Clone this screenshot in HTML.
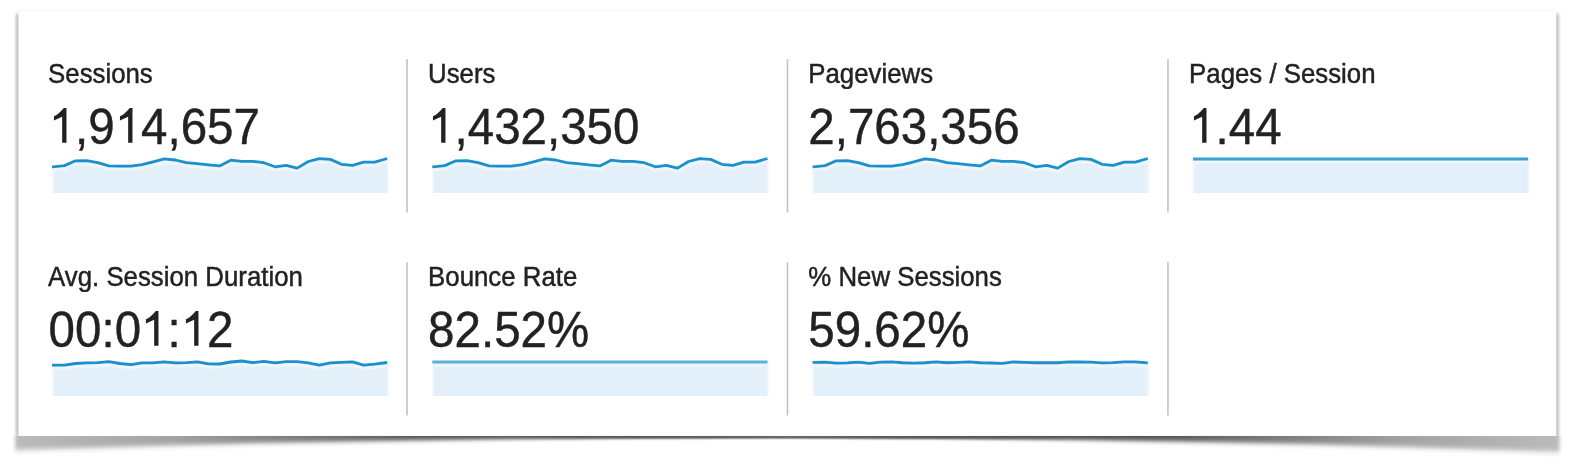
<!DOCTYPE html>
<html><head><meta charset="utf-8"><style>
html,body{margin:0;padding:0;background:#fff;width:1576px;height:472px;overflow:hidden;position:relative}
.lbl,.num{position:absolute;font-family:"Liberation Sans",sans-serif;color:#222;white-space:nowrap;line-height:1}
.lbl{font-size:25.8px;-webkit-text-stroke:0.45px #222;transform:scaleY(1.074);transform-origin:0 0}
.num{font-size:47.5px;-webkit-text-stroke:0.4px #222;transform:scaleY(1.069);transform-origin:0 0}
body>svg{position:absolute;left:0;top:0}
.one{position:relative;color:transparent;-webkit-text-stroke-color:transparent}
.one svg{position:absolute;left:0;top:0;width:0.556em;height:1.117em;fill:#222}
</style></head><body>
<svg width="1576" height="472" viewBox="0 0 1576 472">
<defs>
<filter id="b1" filterUnits="userSpaceOnUse" x="0" y="0" width="1576" height="472"><feGaussianBlur stdDeviation="1.4"/></filter>
<filter id="lb" filterUnits="userSpaceOnUse" x="0" y="0" width="1576" height="472"><feGaussianBlur stdDeviation="0.6"/></filter>
<filter id="fb" filterUnits="userSpaceOnUse" x="0" y="0" width="1576" height="472"><feGaussianBlur stdDeviation="1.0 0.6"/></filter>
<filter id="b2" x="-5%" y="-200%" width="110%" height="500%"><feGaussianBlur stdDeviation="1"/></filter>
<linearGradient id="g0" x2="0" y2="1"><stop offset="0.00" stop-opacity="0.005"/><stop offset="0.14" stop-opacity="0.005"/><stop offset="0.29" stop-opacity="0.005"/><stop offset="0.43" stop-opacity="0.005"/><stop offset="0.57" stop-opacity="0.004"/><stop offset="0.71" stop-opacity="0.001"/><stop offset="0.86" stop-opacity="0.000"/><stop offset="1.00" stop-opacity="0.000"/></linearGradient><linearGradient id="g1" x2="0" y2="1"><stop offset="0.00" stop-opacity="0.018"/><stop offset="0.14" stop-opacity="0.018"/><stop offset="0.29" stop-opacity="0.018"/><stop offset="0.43" stop-opacity="0.018"/><stop offset="0.57" stop-opacity="0.013"/><stop offset="0.71" stop-opacity="0.005"/><stop offset="0.86" stop-opacity="0.000"/><stop offset="1.00" stop-opacity="0.000"/></linearGradient><linearGradient id="g2" x2="0" y2="1"><stop offset="0.00" stop-opacity="0.047"/><stop offset="0.14" stop-opacity="0.047"/><stop offset="0.29" stop-opacity="0.047"/><stop offset="0.43" stop-opacity="0.045"/><stop offset="0.57" stop-opacity="0.034"/><stop offset="0.71" stop-opacity="0.012"/><stop offset="0.86" stop-opacity="0.001"/><stop offset="1.00" stop-opacity="0.000"/></linearGradient><linearGradient id="g3" x2="0" y2="1"><stop offset="0.00" stop-opacity="0.094"/><stop offset="0.14" stop-opacity="0.094"/><stop offset="0.29" stop-opacity="0.094"/><stop offset="0.43" stop-opacity="0.091"/><stop offset="0.57" stop-opacity="0.069"/><stop offset="0.71" stop-opacity="0.024"/><stop offset="0.86" stop-opacity="0.003"/><stop offset="1.00" stop-opacity="0.000"/></linearGradient><linearGradient id="g4" x2="0" y2="1"><stop offset="0.00" stop-opacity="0.153"/><stop offset="0.14" stop-opacity="0.153"/><stop offset="0.29" stop-opacity="0.153"/><stop offset="0.43" stop-opacity="0.148"/><stop offset="0.57" stop-opacity="0.112"/><stop offset="0.71" stop-opacity="0.039"/><stop offset="0.86" stop-opacity="0.004"/><stop offset="1.00" stop-opacity="0.000"/></linearGradient><linearGradient id="g5" x2="0" y2="1"><stop offset="0.00" stop-opacity="0.207"/><stop offset="0.14" stop-opacity="0.207"/><stop offset="0.29" stop-opacity="0.206"/><stop offset="0.43" stop-opacity="0.201"/><stop offset="0.57" stop-opacity="0.151"/><stop offset="0.71" stop-opacity="0.053"/><stop offset="0.86" stop-opacity="0.006"/><stop offset="1.00" stop-opacity="0.000"/></linearGradient><linearGradient id="g6" x2="0" y2="1"><stop offset="0.00" stop-opacity="0.243"/><stop offset="0.14" stop-opacity="0.243"/><stop offset="0.29" stop-opacity="0.243"/><stop offset="0.43" stop-opacity="0.236"/><stop offset="0.57" stop-opacity="0.178"/><stop offset="0.71" stop-opacity="0.062"/><stop offset="0.86" stop-opacity="0.007"/><stop offset="1.00" stop-opacity="0.000"/></linearGradient><linearGradient id="g7" x2="0" y2="1"><stop offset="0.00" stop-opacity="0.261"/><stop offset="0.14" stop-opacity="0.261"/><stop offset="0.29" stop-opacity="0.261"/><stop offset="0.43" stop-opacity="0.254"/><stop offset="0.57" stop-opacity="0.191"/><stop offset="0.71" stop-opacity="0.067"/><stop offset="0.86" stop-opacity="0.007"/><stop offset="1.00" stop-opacity="0.000"/></linearGradient><linearGradient id="g8" x2="0" y2="1"><stop offset="0.00" stop-opacity="0.269"/><stop offset="0.14" stop-opacity="0.269"/><stop offset="0.29" stop-opacity="0.268"/><stop offset="0.43" stop-opacity="0.261"/><stop offset="0.57" stop-opacity="0.196"/><stop offset="0.71" stop-opacity="0.069"/><stop offset="0.86" stop-opacity="0.007"/><stop offset="1.00" stop-opacity="0.000"/></linearGradient><linearGradient id="g9" x2="0" y2="1"><stop offset="0.00" stop-opacity="0.271"/><stop offset="0.14" stop-opacity="0.271"/><stop offset="0.29" stop-opacity="0.271"/><stop offset="0.43" stop-opacity="0.263"/><stop offset="0.57" stop-opacity="0.198"/><stop offset="0.71" stop-opacity="0.069"/><stop offset="0.86" stop-opacity="0.007"/><stop offset="1.00" stop-opacity="0.000"/></linearGradient><linearGradient id="g10" x2="0" y2="1"><stop offset="0.00" stop-opacity="0.272"/><stop offset="0.14" stop-opacity="0.272"/><stop offset="0.29" stop-opacity="0.272"/><stop offset="0.43" stop-opacity="0.264"/><stop offset="0.57" stop-opacity="0.198"/><stop offset="0.71" stop-opacity="0.069"/><stop offset="0.86" stop-opacity="0.007"/><stop offset="1.00" stop-opacity="0.000"/></linearGradient><linearGradient id="g11" x2="0" y2="1"><stop offset="0.00" stop-opacity="0.274"/><stop offset="0.14" stop-opacity="0.274"/><stop offset="0.29" stop-opacity="0.273"/><stop offset="0.43" stop-opacity="0.265"/><stop offset="0.57" stop-opacity="0.198"/><stop offset="0.71" stop-opacity="0.069"/><stop offset="0.86" stop-opacity="0.007"/><stop offset="1.00" stop-opacity="0.000"/></linearGradient><linearGradient id="g12" x2="0" y2="1"><stop offset="0.00" stop-opacity="0.277"/><stop offset="0.14" stop-opacity="0.277"/><stop offset="0.29" stop-opacity="0.277"/><stop offset="0.43" stop-opacity="0.268"/><stop offset="0.57" stop-opacity="0.198"/><stop offset="0.71" stop-opacity="0.068"/><stop offset="0.86" stop-opacity="0.007"/><stop offset="1.00" stop-opacity="0.000"/></linearGradient><linearGradient id="g13" x2="0" y2="1"><stop offset="0.00" stop-opacity="0.282"/><stop offset="0.14" stop-opacity="0.282"/><stop offset="0.29" stop-opacity="0.281"/><stop offset="0.43" stop-opacity="0.271"/><stop offset="0.57" stop-opacity="0.198"/><stop offset="0.71" stop-opacity="0.067"/><stop offset="0.86" stop-opacity="0.007"/><stop offset="1.00" stop-opacity="0.000"/></linearGradient><linearGradient id="g14" x2="0" y2="1"><stop offset="0.00" stop-opacity="0.286"/><stop offset="0.14" stop-opacity="0.286"/><stop offset="0.29" stop-opacity="0.286"/><stop offset="0.43" stop-opacity="0.274"/><stop offset="0.57" stop-opacity="0.198"/><stop offset="0.71" stop-opacity="0.066"/><stop offset="0.86" stop-opacity="0.007"/><stop offset="1.00" stop-opacity="0.000"/></linearGradient><linearGradient id="g15" x2="0" y2="1"><stop offset="0.00" stop-opacity="0.291"/><stop offset="0.14" stop-opacity="0.291"/><stop offset="0.29" stop-opacity="0.291"/><stop offset="0.43" stop-opacity="0.277"/><stop offset="0.57" stop-opacity="0.197"/><stop offset="0.71" stop-opacity="0.065"/><stop offset="0.86" stop-opacity="0.007"/><stop offset="1.00" stop-opacity="0.000"/></linearGradient><linearGradient id="g16" x2="0" y2="1"><stop offset="0.00" stop-opacity="0.296"/><stop offset="0.14" stop-opacity="0.296"/><stop offset="0.29" stop-opacity="0.295"/><stop offset="0.43" stop-opacity="0.280"/><stop offset="0.57" stop-opacity="0.196"/><stop offset="0.71" stop-opacity="0.064"/><stop offset="0.86" stop-opacity="0.007"/><stop offset="1.00" stop-opacity="0.000"/></linearGradient><linearGradient id="g17" x2="0" y2="1"><stop offset="0.00" stop-opacity="0.300"/><stop offset="0.14" stop-opacity="0.300"/><stop offset="0.29" stop-opacity="0.300"/><stop offset="0.43" stop-opacity="0.283"/><stop offset="0.57" stop-opacity="0.195"/><stop offset="0.71" stop-opacity="0.063"/><stop offset="0.86" stop-opacity="0.007"/><stop offset="1.00" stop-opacity="0.000"/></linearGradient><linearGradient id="g18" x2="0" y2="1"><stop offset="0.00" stop-opacity="0.305"/><stop offset="0.14" stop-opacity="0.305"/><stop offset="0.29" stop-opacity="0.304"/><stop offset="0.43" stop-opacity="0.286"/><stop offset="0.57" stop-opacity="0.194"/><stop offset="0.71" stop-opacity="0.062"/><stop offset="0.86" stop-opacity="0.007"/><stop offset="1.00" stop-opacity="0.000"/></linearGradient><linearGradient id="g19" x2="0" y2="1"><stop offset="0.00" stop-opacity="0.310"/><stop offset="0.14" stop-opacity="0.310"/><stop offset="0.29" stop-opacity="0.309"/><stop offset="0.43" stop-opacity="0.288"/><stop offset="0.57" stop-opacity="0.193"/><stop offset="0.71" stop-opacity="0.060"/><stop offset="0.86" stop-opacity="0.007"/><stop offset="1.00" stop-opacity="0.000"/></linearGradient><linearGradient id="g20" x2="0" y2="1"><stop offset="0.00" stop-opacity="0.314"/><stop offset="0.14" stop-opacity="0.314"/><stop offset="0.29" stop-opacity="0.313"/><stop offset="0.43" stop-opacity="0.290"/><stop offset="0.57" stop-opacity="0.191"/><stop offset="0.71" stop-opacity="0.059"/><stop offset="0.86" stop-opacity="0.006"/><stop offset="1.00" stop-opacity="0.000"/></linearGradient><linearGradient id="g21" x2="0" y2="1"><stop offset="0.00" stop-opacity="0.319"/><stop offset="0.14" stop-opacity="0.319"/><stop offset="0.29" stop-opacity="0.317"/><stop offset="0.43" stop-opacity="0.292"/><stop offset="0.57" stop-opacity="0.189"/><stop offset="0.71" stop-opacity="0.058"/><stop offset="0.86" stop-opacity="0.006"/><stop offset="1.00" stop-opacity="0.000"/></linearGradient><linearGradient id="g22" x2="0" y2="1"><stop offset="0.00" stop-opacity="0.324"/><stop offset="0.14" stop-opacity="0.324"/><stop offset="0.29" stop-opacity="0.322"/><stop offset="0.43" stop-opacity="0.294"/><stop offset="0.57" stop-opacity="0.187"/><stop offset="0.71" stop-opacity="0.057"/><stop offset="0.86" stop-opacity="0.006"/><stop offset="1.00" stop-opacity="0.000"/></linearGradient><linearGradient id="g23" x2="0" y2="1"><stop offset="0.00" stop-opacity="0.328"/><stop offset="0.14" stop-opacity="0.328"/><stop offset="0.29" stop-opacity="0.326"/><stop offset="0.43" stop-opacity="0.296"/><stop offset="0.57" stop-opacity="0.185"/><stop offset="0.71" stop-opacity="0.055"/><stop offset="0.86" stop-opacity="0.006"/><stop offset="1.00" stop-opacity="0.000"/></linearGradient><linearGradient id="g24" x2="0" y2="1"><stop offset="0.00" stop-opacity="0.333"/><stop offset="0.14" stop-opacity="0.333"/><stop offset="0.29" stop-opacity="0.330"/><stop offset="0.43" stop-opacity="0.297"/><stop offset="0.57" stop-opacity="0.183"/><stop offset="0.71" stop-opacity="0.054"/><stop offset="0.86" stop-opacity="0.006"/><stop offset="1.00" stop-opacity="0.000"/></linearGradient><linearGradient id="g25" x2="0" y2="1"><stop offset="0.00" stop-opacity="0.338"/><stop offset="0.14" stop-opacity="0.338"/><stop offset="0.29" stop-opacity="0.334"/><stop offset="0.43" stop-opacity="0.298"/><stop offset="0.57" stop-opacity="0.180"/><stop offset="0.71" stop-opacity="0.053"/><stop offset="0.86" stop-opacity="0.006"/><stop offset="1.00" stop-opacity="0.000"/></linearGradient><linearGradient id="g26" x2="0" y2="1"><stop offset="0.00" stop-opacity="0.343"/><stop offset="0.14" stop-opacity="0.342"/><stop offset="0.29" stop-opacity="0.338"/><stop offset="0.43" stop-opacity="0.298"/><stop offset="0.57" stop-opacity="0.177"/><stop offset="0.71" stop-opacity="0.051"/><stop offset="0.86" stop-opacity="0.006"/><stop offset="1.00" stop-opacity="0.000"/></linearGradient><linearGradient id="g27" x2="0" y2="1"><stop offset="0.00" stop-opacity="0.347"/><stop offset="0.14" stop-opacity="0.347"/><stop offset="0.29" stop-opacity="0.342"/><stop offset="0.43" stop-opacity="0.298"/><stop offset="0.57" stop-opacity="0.174"/><stop offset="0.71" stop-opacity="0.050"/><stop offset="0.86" stop-opacity="0.006"/><stop offset="1.00" stop-opacity="0.000"/></linearGradient><linearGradient id="g28" x2="0" y2="1"><stop offset="0.00" stop-opacity="0.352"/><stop offset="0.14" stop-opacity="0.352"/><stop offset="0.29" stop-opacity="0.345"/><stop offset="0.43" stop-opacity="0.298"/><stop offset="0.57" stop-opacity="0.171"/><stop offset="0.71" stop-opacity="0.049"/><stop offset="0.86" stop-opacity="0.006"/><stop offset="1.00" stop-opacity="0.000"/></linearGradient><linearGradient id="g29" x2="0" y2="1"><stop offset="0.00" stop-opacity="0.357"/><stop offset="0.14" stop-opacity="0.356"/><stop offset="0.29" stop-opacity="0.349"/><stop offset="0.43" stop-opacity="0.298"/><stop offset="0.57" stop-opacity="0.168"/><stop offset="0.71" stop-opacity="0.047"/><stop offset="0.86" stop-opacity="0.006"/><stop offset="1.00" stop-opacity="0.000"/></linearGradient><linearGradient id="g30" x2="0" y2="1"><stop offset="0.00" stop-opacity="0.363"/><stop offset="0.14" stop-opacity="0.362"/><stop offset="0.29" stop-opacity="0.353"/><stop offset="0.43" stop-opacity="0.298"/><stop offset="0.57" stop-opacity="0.165"/><stop offset="0.71" stop-opacity="0.046"/><stop offset="0.86" stop-opacity="0.005"/><stop offset="1.00" stop-opacity="0.000"/></linearGradient><linearGradient id="g31" x2="0" y2="1"><stop offset="0.00" stop-opacity="0.373"/><stop offset="0.14" stop-opacity="0.372"/><stop offset="0.29" stop-opacity="0.362"/><stop offset="0.43" stop-opacity="0.301"/><stop offset="0.57" stop-opacity="0.165"/><stop offset="0.71" stop-opacity="0.045"/><stop offset="0.86" stop-opacity="0.005"/><stop offset="1.00" stop-opacity="0.000"/></linearGradient><linearGradient id="g32" x2="0" y2="1"><stop offset="0.00" stop-opacity="0.383"/><stop offset="0.14" stop-opacity="0.383"/><stop offset="0.29" stop-opacity="0.370"/><stop offset="0.43" stop-opacity="0.304"/><stop offset="0.57" stop-opacity="0.163"/><stop offset="0.71" stop-opacity="0.045"/><stop offset="0.86" stop-opacity="0.005"/><stop offset="1.00" stop-opacity="0.000"/></linearGradient><linearGradient id="g33" x2="0" y2="1"><stop offset="0.00" stop-opacity="0.394"/><stop offset="0.14" stop-opacity="0.393"/><stop offset="0.29" stop-opacity="0.378"/><stop offset="0.43" stop-opacity="0.307"/><stop offset="0.57" stop-opacity="0.162"/><stop offset="0.71" stop-opacity="0.044"/><stop offset="0.86" stop-opacity="0.005"/><stop offset="1.00" stop-opacity="0.000"/></linearGradient><linearGradient id="g34" x2="0" y2="1"><stop offset="0.00" stop-opacity="0.404"/><stop offset="0.14" stop-opacity="0.403"/><stop offset="0.29" stop-opacity="0.386"/><stop offset="0.43" stop-opacity="0.308"/><stop offset="0.57" stop-opacity="0.160"/><stop offset="0.71" stop-opacity="0.043"/><stop offset="0.86" stop-opacity="0.005"/><stop offset="1.00" stop-opacity="0.000"/></linearGradient><linearGradient id="g35" x2="0" y2="1"><stop offset="0.00" stop-opacity="0.415"/><stop offset="0.14" stop-opacity="0.413"/><stop offset="0.29" stop-opacity="0.393"/><stop offset="0.43" stop-opacity="0.310"/><stop offset="0.57" stop-opacity="0.158"/><stop offset="0.71" stop-opacity="0.042"/><stop offset="0.86" stop-opacity="0.005"/><stop offset="1.00" stop-opacity="0.000"/></linearGradient><linearGradient id="g36" x2="0" y2="1"><stop offset="0.00" stop-opacity="0.425"/><stop offset="0.14" stop-opacity="0.423"/><stop offset="0.29" stop-opacity="0.400"/><stop offset="0.43" stop-opacity="0.310"/><stop offset="0.57" stop-opacity="0.156"/><stop offset="0.71" stop-opacity="0.042"/><stop offset="0.86" stop-opacity="0.005"/><stop offset="1.00" stop-opacity="0.000"/></linearGradient><linearGradient id="g37" x2="0" y2="1"><stop offset="0.00" stop-opacity="0.435"/><stop offset="0.14" stop-opacity="0.432"/><stop offset="0.29" stop-opacity="0.406"/><stop offset="0.43" stop-opacity="0.310"/><stop offset="0.57" stop-opacity="0.153"/><stop offset="0.71" stop-opacity="0.041"/><stop offset="0.86" stop-opacity="0.005"/><stop offset="1.00" stop-opacity="0.000"/></linearGradient><linearGradient id="g38" x2="0" y2="1"><stop offset="0.00" stop-opacity="0.446"/><stop offset="0.14" stop-opacity="0.442"/><stop offset="0.29" stop-opacity="0.412"/><stop offset="0.43" stop-opacity="0.310"/><stop offset="0.57" stop-opacity="0.151"/><stop offset="0.71" stop-opacity="0.040"/><stop offset="0.86" stop-opacity="0.005"/><stop offset="1.00" stop-opacity="0.000"/></linearGradient><linearGradient id="g39" x2="0" y2="1"><stop offset="0.00" stop-opacity="0.456"/><stop offset="0.14" stop-opacity="0.451"/><stop offset="0.29" stop-opacity="0.417"/><stop offset="0.43" stop-opacity="0.309"/><stop offset="0.57" stop-opacity="0.148"/><stop offset="0.71" stop-opacity="0.039"/><stop offset="0.86" stop-opacity="0.005"/><stop offset="1.00" stop-opacity="0.000"/></linearGradient><linearGradient id="g40" x2="0" y2="1"><stop offset="0.00" stop-opacity="0.466"/><stop offset="0.14" stop-opacity="0.460"/><stop offset="0.29" stop-opacity="0.422"/><stop offset="0.43" stop-opacity="0.307"/><stop offset="0.57" stop-opacity="0.145"/><stop offset="0.71" stop-opacity="0.038"/><stop offset="0.86" stop-opacity="0.005"/><stop offset="1.00" stop-opacity="0.000"/></linearGradient><linearGradient id="g41" x2="0" y2="1"><stop offset="0.00" stop-opacity="0.476"/><stop offset="0.14" stop-opacity="0.469"/><stop offset="0.29" stop-opacity="0.427"/><stop offset="0.43" stop-opacity="0.306"/><stop offset="0.57" stop-opacity="0.143"/><stop offset="0.71" stop-opacity="0.037"/><stop offset="0.86" stop-opacity="0.005"/><stop offset="1.00" stop-opacity="0.000"/></linearGradient><linearGradient id="g42" x2="0" y2="1"><stop offset="0.00" stop-opacity="0.486"/><stop offset="0.14" stop-opacity="0.478"/><stop offset="0.29" stop-opacity="0.432"/><stop offset="0.43" stop-opacity="0.307"/><stop offset="0.57" stop-opacity="0.142"/><stop offset="0.71" stop-opacity="0.037"/><stop offset="0.86" stop-opacity="0.005"/><stop offset="1.00" stop-opacity="0.000"/></linearGradient><linearGradient id="g43" x2="0" y2="1"><stop offset="0.00" stop-opacity="0.496"/><stop offset="0.14" stop-opacity="0.487"/><stop offset="0.29" stop-opacity="0.437"/><stop offset="0.43" stop-opacity="0.307"/><stop offset="0.57" stop-opacity="0.140"/><stop offset="0.71" stop-opacity="0.036"/><stop offset="0.86" stop-opacity="0.005"/><stop offset="1.00" stop-opacity="0.000"/></linearGradient><linearGradient id="g44" x2="0" y2="1"><stop offset="0.00" stop-opacity="0.506"/><stop offset="0.14" stop-opacity="0.495"/><stop offset="0.29" stop-opacity="0.441"/><stop offset="0.43" stop-opacity="0.306"/><stop offset="0.57" stop-opacity="0.139"/><stop offset="0.71" stop-opacity="0.036"/><stop offset="0.86" stop-opacity="0.005"/><stop offset="1.00" stop-opacity="0.000"/></linearGradient><linearGradient id="g45" x2="0" y2="1"><stop offset="0.00" stop-opacity="0.515"/><stop offset="0.14" stop-opacity="0.503"/><stop offset="0.29" stop-opacity="0.445"/><stop offset="0.43" stop-opacity="0.305"/><stop offset="0.57" stop-opacity="0.137"/><stop offset="0.71" stop-opacity="0.036"/><stop offset="0.86" stop-opacity="0.005"/><stop offset="1.00" stop-opacity="0.000"/></linearGradient><linearGradient id="g46" x2="0" y2="1"><stop offset="0.00" stop-opacity="0.525"/><stop offset="0.14" stop-opacity="0.511"/><stop offset="0.29" stop-opacity="0.449"/><stop offset="0.43" stop-opacity="0.304"/><stop offset="0.57" stop-opacity="0.135"/><stop offset="0.71" stop-opacity="0.035"/><stop offset="0.86" stop-opacity="0.005"/><stop offset="1.00" stop-opacity="0.000"/></linearGradient><linearGradient id="g47" x2="0" y2="1"><stop offset="0.00" stop-opacity="0.534"/><stop offset="0.14" stop-opacity="0.519"/><stop offset="0.29" stop-opacity="0.452"/><stop offset="0.43" stop-opacity="0.303"/><stop offset="0.57" stop-opacity="0.133"/><stop offset="0.71" stop-opacity="0.035"/><stop offset="0.86" stop-opacity="0.005"/><stop offset="1.00" stop-opacity="0.000"/></linearGradient><linearGradient id="g48" x2="0" y2="1"><stop offset="0.00" stop-opacity="0.544"/><stop offset="0.14" stop-opacity="0.526"/><stop offset="0.29" stop-opacity="0.454"/><stop offset="0.43" stop-opacity="0.301"/><stop offset="0.57" stop-opacity="0.132"/><stop offset="0.71" stop-opacity="0.034"/><stop offset="0.86" stop-opacity="0.005"/><stop offset="1.00" stop-opacity="0.000"/></linearGradient><linearGradient id="g49" x2="0" y2="1"><stop offset="0.00" stop-opacity="0.553"/><stop offset="0.14" stop-opacity="0.534"/><stop offset="0.29" stop-opacity="0.456"/><stop offset="0.43" stop-opacity="0.299"/><stop offset="0.57" stop-opacity="0.130"/><stop offset="0.71" stop-opacity="0.033"/><stop offset="0.86" stop-opacity="0.005"/><stop offset="1.00" stop-opacity="0.000"/></linearGradient><linearGradient id="g50" x2="0" y2="1"><stop offset="0.00" stop-opacity="0.563"/><stop offset="0.14" stop-opacity="0.540"/><stop offset="0.29" stop-opacity="0.458"/><stop offset="0.43" stop-opacity="0.297"/><stop offset="0.57" stop-opacity="0.127"/><stop offset="0.71" stop-opacity="0.033"/><stop offset="0.86" stop-opacity="0.005"/><stop offset="1.00" stop-opacity="0.000"/></linearGradient><linearGradient id="g51" x2="0" y2="1"><stop offset="0.00" stop-opacity="0.572"/><stop offset="0.14" stop-opacity="0.547"/><stop offset="0.29" stop-opacity="0.459"/><stop offset="0.43" stop-opacity="0.294"/><stop offset="0.57" stop-opacity="0.125"/><stop offset="0.71" stop-opacity="0.032"/><stop offset="0.86" stop-opacity="0.005"/><stop offset="1.00" stop-opacity="0.000"/></linearGradient><linearGradient id="g52" x2="0" y2="1"><stop offset="0.00" stop-opacity="0.583"/><stop offset="0.14" stop-opacity="0.554"/><stop offset="0.29" stop-opacity="0.461"/><stop offset="0.43" stop-opacity="0.291"/><stop offset="0.57" stop-opacity="0.123"/><stop offset="0.71" stop-opacity="0.032"/><stop offset="0.86" stop-opacity="0.005"/><stop offset="1.00" stop-opacity="0.000"/></linearGradient><linearGradient id="g53" x2="0" y2="1"><stop offset="0.00" stop-opacity="0.594"/><stop offset="0.14" stop-opacity="0.562"/><stop offset="0.29" stop-opacity="0.463"/><stop offset="0.43" stop-opacity="0.289"/><stop offset="0.57" stop-opacity="0.121"/><stop offset="0.71" stop-opacity="0.031"/><stop offset="0.86" stop-opacity="0.005"/><stop offset="1.00" stop-opacity="0.000"/></linearGradient><linearGradient id="g54" x2="0" y2="1"><stop offset="0.00" stop-opacity="0.605"/><stop offset="0.14" stop-opacity="0.570"/><stop offset="0.29" stop-opacity="0.464"/><stop offset="0.43" stop-opacity="0.287"/><stop offset="0.57" stop-opacity="0.119"/><stop offset="0.71" stop-opacity="0.031"/><stop offset="0.86" stop-opacity="0.005"/><stop offset="1.00" stop-opacity="0.000"/></linearGradient><linearGradient id="g55" x2="0" y2="1"><stop offset="0.00" stop-opacity="0.616"/><stop offset="0.14" stop-opacity="0.576"/><stop offset="0.29" stop-opacity="0.465"/><stop offset="0.43" stop-opacity="0.284"/><stop offset="0.57" stop-opacity="0.117"/><stop offset="0.71" stop-opacity="0.030"/><stop offset="0.86" stop-opacity="0.005"/><stop offset="1.00" stop-opacity="0.000"/></linearGradient><linearGradient id="g56" x2="0" y2="1"><stop offset="0.00" stop-opacity="0.626"/><stop offset="0.14" stop-opacity="0.583"/><stop offset="0.29" stop-opacity="0.465"/><stop offset="0.43" stop-opacity="0.280"/><stop offset="0.57" stop-opacity="0.115"/><stop offset="0.71" stop-opacity="0.030"/><stop offset="0.86" stop-opacity="0.005"/><stop offset="1.00" stop-opacity="0.000"/></linearGradient><linearGradient id="g57" x2="0" y2="1"><stop offset="0.00" stop-opacity="0.636"/><stop offset="0.14" stop-opacity="0.588"/><stop offset="0.29" stop-opacity="0.464"/><stop offset="0.43" stop-opacity="0.277"/><stop offset="0.57" stop-opacity="0.113"/><stop offset="0.71" stop-opacity="0.029"/><stop offset="0.86" stop-opacity="0.005"/><stop offset="1.00" stop-opacity="0.000"/></linearGradient><linearGradient id="g58" x2="0" y2="1"><stop offset="0.00" stop-opacity="0.646"/><stop offset="0.14" stop-opacity="0.594"/><stop offset="0.29" stop-opacity="0.463"/><stop offset="0.43" stop-opacity="0.273"/><stop offset="0.57" stop-opacity="0.111"/><stop offset="0.71" stop-opacity="0.029"/><stop offset="0.86" stop-opacity="0.005"/><stop offset="1.00" stop-opacity="0.000"/></linearGradient><linearGradient id="g59" x2="0" y2="1"><stop offset="0.00" stop-opacity="0.657"/><stop offset="0.14" stop-opacity="0.600"/><stop offset="0.29" stop-opacity="0.464"/><stop offset="0.43" stop-opacity="0.271"/><stop offset="0.57" stop-opacity="0.109"/><stop offset="0.71" stop-opacity="0.029"/><stop offset="0.86" stop-opacity="0.005"/><stop offset="1.00" stop-opacity="0.000"/></linearGradient><linearGradient id="g60" x2="0" y2="1"><stop offset="0.00" stop-opacity="0.664"/><stop offset="0.14" stop-opacity="0.605"/><stop offset="0.29" stop-opacity="0.466"/><stop offset="0.43" stop-opacity="0.272"/><stop offset="0.57" stop-opacity="0.109"/><stop offset="0.71" stop-opacity="0.029"/><stop offset="0.86" stop-opacity="0.005"/><stop offset="1.00" stop-opacity="0.000"/></linearGradient><linearGradient id="g61" x2="0" y2="1"><stop offset="0.00" stop-opacity="0.664"/><stop offset="0.14" stop-opacity="0.604"/><stop offset="0.29" stop-opacity="0.464"/><stop offset="0.43" stop-opacity="0.270"/><stop offset="0.57" stop-opacity="0.108"/><stop offset="0.71" stop-opacity="0.028"/><stop offset="0.86" stop-opacity="0.005"/><stop offset="1.00" stop-opacity="0.000"/></linearGradient><linearGradient id="g62" x2="0" y2="1"><stop offset="0.00" stop-opacity="0.665"/><stop offset="0.14" stop-opacity="0.604"/><stop offset="0.29" stop-opacity="0.462"/><stop offset="0.43" stop-opacity="0.268"/><stop offset="0.57" stop-opacity="0.107"/><stop offset="0.71" stop-opacity="0.028"/><stop offset="0.86" stop-opacity="0.005"/><stop offset="1.00" stop-opacity="0.000"/></linearGradient><linearGradient id="g63" x2="0" y2="1"><stop offset="0.00" stop-opacity="0.666"/><stop offset="0.14" stop-opacity="0.603"/><stop offset="0.29" stop-opacity="0.460"/><stop offset="0.43" stop-opacity="0.266"/><stop offset="0.57" stop-opacity="0.106"/><stop offset="0.71" stop-opacity="0.028"/><stop offset="0.86" stop-opacity="0.005"/><stop offset="1.00" stop-opacity="0.000"/></linearGradient><linearGradient id="g64" x2="0" y2="1"><stop offset="0.00" stop-opacity="0.667"/><stop offset="0.14" stop-opacity="0.602"/><stop offset="0.29" stop-opacity="0.458"/><stop offset="0.43" stop-opacity="0.263"/><stop offset="0.57" stop-opacity="0.105"/><stop offset="0.71" stop-opacity="0.028"/><stop offset="0.86" stop-opacity="0.005"/><stop offset="1.00" stop-opacity="0.000"/></linearGradient><linearGradient id="g65" x2="0" y2="1"><stop offset="0.00" stop-opacity="0.668"/><stop offset="0.14" stop-opacity="0.601"/><stop offset="0.29" stop-opacity="0.455"/><stop offset="0.43" stop-opacity="0.261"/><stop offset="0.57" stop-opacity="0.104"/><stop offset="0.71" stop-opacity="0.027"/><stop offset="0.86" stop-opacity="0.005"/><stop offset="1.00" stop-opacity="0.000"/></linearGradient><linearGradient id="g66" x2="0" y2="1"><stop offset="0.00" stop-opacity="0.668"/><stop offset="0.14" stop-opacity="0.600"/><stop offset="0.29" stop-opacity="0.452"/><stop offset="0.43" stop-opacity="0.258"/><stop offset="0.57" stop-opacity="0.103"/><stop offset="0.71" stop-opacity="0.027"/><stop offset="0.86" stop-opacity="0.005"/><stop offset="1.00" stop-opacity="0.000"/></linearGradient><linearGradient id="g67" x2="0" y2="1"><stop offset="0.00" stop-opacity="0.669"/><stop offset="0.14" stop-opacity="0.599"/><stop offset="0.29" stop-opacity="0.450"/><stop offset="0.43" stop-opacity="0.256"/><stop offset="0.57" stop-opacity="0.102"/><stop offset="0.71" stop-opacity="0.027"/><stop offset="0.86" stop-opacity="0.005"/><stop offset="1.00" stop-opacity="0.000"/></linearGradient><linearGradient id="g68" x2="0" y2="1"><stop offset="0.00" stop-opacity="0.669"/><stop offset="0.14" stop-opacity="0.597"/><stop offset="0.29" stop-opacity="0.447"/><stop offset="0.43" stop-opacity="0.253"/><stop offset="0.57" stop-opacity="0.100"/><stop offset="0.71" stop-opacity="0.026"/><stop offset="0.86" stop-opacity="0.004"/><stop offset="1.00" stop-opacity="0.000"/></linearGradient><linearGradient id="g69" x2="0" y2="1"><stop offset="0.00" stop-opacity="0.670"/><stop offset="0.14" stop-opacity="0.596"/><stop offset="0.29" stop-opacity="0.444"/><stop offset="0.43" stop-opacity="0.250"/><stop offset="0.57" stop-opacity="0.099"/><stop offset="0.71" stop-opacity="0.026"/><stop offset="0.86" stop-opacity="0.004"/><stop offset="1.00" stop-opacity="0.000"/></linearGradient><linearGradient id="g70" x2="0" y2="1"><stop offset="0.00" stop-opacity="0.670"/><stop offset="0.14" stop-opacity="0.594"/><stop offset="0.29" stop-opacity="0.440"/><stop offset="0.43" stop-opacity="0.247"/><stop offset="0.57" stop-opacity="0.098"/><stop offset="0.71" stop-opacity="0.026"/><stop offset="0.86" stop-opacity="0.004"/><stop offset="1.00" stop-opacity="0.000"/></linearGradient><linearGradient id="g71" x2="0" y2="1"><stop offset="0.00" stop-opacity="0.670"/><stop offset="0.14" stop-opacity="0.592"/><stop offset="0.29" stop-opacity="0.437"/><stop offset="0.43" stop-opacity="0.244"/><stop offset="0.57" stop-opacity="0.096"/><stop offset="0.71" stop-opacity="0.025"/><stop offset="0.86" stop-opacity="0.004"/><stop offset="1.00" stop-opacity="0.000"/></linearGradient><linearGradient id="g72" x2="0" y2="1"><stop offset="0.00" stop-opacity="0.672"/><stop offset="0.14" stop-opacity="0.598"/><stop offset="0.29" stop-opacity="0.446"/><stop offset="0.43" stop-opacity="0.252"/><stop offset="0.57" stop-opacity="0.100"/><stop offset="0.71" stop-opacity="0.026"/><stop offset="0.86" stop-opacity="0.004"/><stop offset="1.00" stop-opacity="0.000"/></linearGradient><linearGradient id="g73" x2="0" y2="1"><stop offset="0.00" stop-opacity="0.673"/><stop offset="0.14" stop-opacity="0.605"/><stop offset="0.29" stop-opacity="0.457"/><stop offset="0.43" stop-opacity="0.261"/><stop offset="0.57" stop-opacity="0.104"/><stop offset="0.71" stop-opacity="0.027"/><stop offset="0.86" stop-opacity="0.005"/><stop offset="1.00" stop-opacity="0.000"/></linearGradient><linearGradient id="g74" x2="0" y2="1"><stop offset="0.00" stop-opacity="0.675"/><stop offset="0.14" stop-opacity="0.612"/><stop offset="0.29" stop-opacity="0.469"/><stop offset="0.43" stop-opacity="0.272"/><stop offset="0.57" stop-opacity="0.109"/><stop offset="0.71" stop-opacity="0.029"/><stop offset="0.86" stop-opacity="0.005"/><stop offset="1.00" stop-opacity="0.000"/></linearGradient><linearGradient id="g75" x2="0" y2="1"><stop offset="0.00" stop-opacity="0.676"/><stop offset="0.14" stop-opacity="0.619"/><stop offset="0.29" stop-opacity="0.482"/><stop offset="0.43" stop-opacity="0.283"/><stop offset="0.57" stop-opacity="0.115"/><stop offset="0.71" stop-opacity="0.030"/><stop offset="0.86" stop-opacity="0.005"/><stop offset="1.00" stop-opacity="0.000"/></linearGradient><linearGradient id="g76" x2="0" y2="1"><stop offset="0.00" stop-opacity="0.677"/><stop offset="0.14" stop-opacity="0.626"/><stop offset="0.29" stop-opacity="0.495"/><stop offset="0.43" stop-opacity="0.296"/><stop offset="0.57" stop-opacity="0.121"/><stop offset="0.71" stop-opacity="0.031"/><stop offset="0.86" stop-opacity="0.005"/><stop offset="1.00" stop-opacity="0.000"/></linearGradient><linearGradient id="g77" x2="0" y2="1"><stop offset="0.00" stop-opacity="0.677"/><stop offset="0.14" stop-opacity="0.633"/><stop offset="0.29" stop-opacity="0.509"/><stop offset="0.43" stop-opacity="0.310"/><stop offset="0.57" stop-opacity="0.128"/><stop offset="0.71" stop-opacity="0.033"/><stop offset="0.86" stop-opacity="0.005"/><stop offset="1.00" stop-opacity="0.000"/></linearGradient><linearGradient id="g78" x2="0" y2="1"><stop offset="0.00" stop-opacity="0.677"/><stop offset="0.14" stop-opacity="0.639"/><stop offset="0.29" stop-opacity="0.523"/><stop offset="0.43" stop-opacity="0.325"/><stop offset="0.57" stop-opacity="0.136"/><stop offset="0.71" stop-opacity="0.035"/><stop offset="0.86" stop-opacity="0.005"/><stop offset="1.00" stop-opacity="0.000"/></linearGradient><linearGradient id="g79" x2="0" y2="1"><stop offset="0.00" stop-opacity="0.677"/><stop offset="0.14" stop-opacity="0.645"/><stop offset="0.29" stop-opacity="0.538"/><stop offset="0.43" stop-opacity="0.342"/><stop offset="0.57" stop-opacity="0.145"/><stop offset="0.71" stop-opacity="0.037"/><stop offset="0.86" stop-opacity="0.006"/><stop offset="1.00" stop-opacity="0.000"/></linearGradient><linearGradient id="g80" x2="0" y2="1"><stop offset="0.00" stop-opacity="0.676"/><stop offset="0.14" stop-opacity="0.650"/><stop offset="0.29" stop-opacity="0.552"/><stop offset="0.43" stop-opacity="0.358"/><stop offset="0.57" stop-opacity="0.154"/><stop offset="0.71" stop-opacity="0.040"/><stop offset="0.86" stop-opacity="0.006"/><stop offset="1.00" stop-opacity="0.000"/></linearGradient><linearGradient id="g81" x2="0" y2="1"><stop offset="0.00" stop-opacity="0.675"/><stop offset="0.14" stop-opacity="0.651"/><stop offset="0.29" stop-opacity="0.559"/><stop offset="0.43" stop-opacity="0.367"/><stop offset="0.57" stop-opacity="0.159"/><stop offset="0.71" stop-opacity="0.041"/><stop offset="0.86" stop-opacity="0.006"/><stop offset="1.00" stop-opacity="0.000"/></linearGradient><linearGradient id="g82" x2="0" y2="1"><stop offset="0.00" stop-opacity="0.673"/><stop offset="0.14" stop-opacity="0.653"/><stop offset="0.29" stop-opacity="0.565"/><stop offset="0.43" stop-opacity="0.377"/><stop offset="0.57" stop-opacity="0.165"/><stop offset="0.71" stop-opacity="0.043"/><stop offset="0.86" stop-opacity="0.006"/><stop offset="1.00" stop-opacity="0.000"/></linearGradient><linearGradient id="g83" x2="0" y2="1"><stop offset="0.00" stop-opacity="0.672"/><stop offset="0.14" stop-opacity="0.654"/><stop offset="0.29" stop-opacity="0.572"/><stop offset="0.43" stop-opacity="0.387"/><stop offset="0.57" stop-opacity="0.172"/><stop offset="0.71" stop-opacity="0.044"/><stop offset="0.86" stop-opacity="0.006"/><stop offset="1.00" stop-opacity="0.000"/></linearGradient><linearGradient id="g84" x2="0" y2="1"><stop offset="0.00" stop-opacity="0.670"/><stop offset="0.14" stop-opacity="0.655"/><stop offset="0.29" stop-opacity="0.579"/><stop offset="0.43" stop-opacity="0.398"/><stop offset="0.57" stop-opacity="0.179"/><stop offset="0.71" stop-opacity="0.046"/><stop offset="0.86" stop-opacity="0.006"/><stop offset="1.00" stop-opacity="0.000"/></linearGradient><linearGradient id="g85" x2="0" y2="1"><stop offset="0.00" stop-opacity="0.668"/><stop offset="0.14" stop-opacity="0.655"/><stop offset="0.29" stop-opacity="0.586"/><stop offset="0.43" stop-opacity="0.410"/><stop offset="0.57" stop-opacity="0.186"/><stop offset="0.71" stop-opacity="0.048"/><stop offset="0.86" stop-opacity="0.007"/><stop offset="1.00" stop-opacity="0.000"/></linearGradient><linearGradient id="g86" x2="0" y2="1"><stop offset="0.00" stop-opacity="0.666"/><stop offset="0.14" stop-opacity="0.656"/><stop offset="0.29" stop-opacity="0.593"/><stop offset="0.43" stop-opacity="0.422"/><stop offset="0.57" stop-opacity="0.195"/><stop offset="0.71" stop-opacity="0.051"/><stop offset="0.86" stop-opacity="0.007"/><stop offset="1.00" stop-opacity="0.000"/></linearGradient><linearGradient id="g87" x2="0" y2="1"><stop offset="0.00" stop-opacity="0.665"/><stop offset="0.14" stop-opacity="0.656"/><stop offset="0.29" stop-opacity="0.600"/><stop offset="0.43" stop-opacity="0.435"/><stop offset="0.57" stop-opacity="0.205"/><stop offset="0.71" stop-opacity="0.054"/><stop offset="0.86" stop-opacity="0.007"/><stop offset="1.00" stop-opacity="0.000"/></linearGradient><linearGradient id="g88" x2="0" y2="1"><stop offset="0.00" stop-opacity="0.663"/><stop offset="0.14" stop-opacity="0.656"/><stop offset="0.29" stop-opacity="0.607"/><stop offset="0.43" stop-opacity="0.449"/><stop offset="0.57" stop-opacity="0.215"/><stop offset="0.71" stop-opacity="0.057"/><stop offset="0.86" stop-opacity="0.007"/><stop offset="1.00" stop-opacity="0.000"/></linearGradient><linearGradient id="g89" x2="0" y2="1"><stop offset="0.00" stop-opacity="0.661"/><stop offset="0.14" stop-opacity="0.655"/><stop offset="0.29" stop-opacity="0.613"/><stop offset="0.43" stop-opacity="0.464"/><stop offset="0.57" stop-opacity="0.227"/><stop offset="0.71" stop-opacity="0.060"/><stop offset="0.86" stop-opacity="0.008"/><stop offset="1.00" stop-opacity="0.000"/></linearGradient><linearGradient id="g90" x2="0" y2="1"><stop offset="0.00" stop-opacity="0.658"/><stop offset="0.14" stop-opacity="0.653"/><stop offset="0.29" stop-opacity="0.615"/><stop offset="0.43" stop-opacity="0.471"/><stop offset="0.57" stop-opacity="0.233"/><stop offset="0.71" stop-opacity="0.062"/><stop offset="0.86" stop-opacity="0.008"/><stop offset="1.00" stop-opacity="0.000"/></linearGradient><linearGradient id="g91" x2="0" y2="1"><stop offset="0.00" stop-opacity="0.654"/><stop offset="0.14" stop-opacity="0.650"/><stop offset="0.29" stop-opacity="0.614"/><stop offset="0.43" stop-opacity="0.473"/><stop offset="0.57" stop-opacity="0.236"/><stop offset="0.71" stop-opacity="0.063"/><stop offset="0.86" stop-opacity="0.008"/><stop offset="1.00" stop-opacity="0.000"/></linearGradient><linearGradient id="g92" x2="0" y2="1"><stop offset="0.00" stop-opacity="0.651"/><stop offset="0.14" stop-opacity="0.647"/><stop offset="0.29" stop-opacity="0.613"/><stop offset="0.43" stop-opacity="0.475"/><stop offset="0.57" stop-opacity="0.238"/><stop offset="0.71" stop-opacity="0.064"/><stop offset="0.86" stop-opacity="0.008"/><stop offset="1.00" stop-opacity="0.000"/></linearGradient><linearGradient id="g93" x2="0" y2="1"><stop offset="0.00" stop-opacity="0.647"/><stop offset="0.14" stop-opacity="0.644"/><stop offset="0.29" stop-opacity="0.611"/><stop offset="0.43" stop-opacity="0.477"/><stop offset="0.57" stop-opacity="0.241"/><stop offset="0.71" stop-opacity="0.064"/><stop offset="0.86" stop-opacity="0.008"/><stop offset="1.00" stop-opacity="0.000"/></linearGradient><linearGradient id="g94" x2="0" y2="1"><stop offset="0.00" stop-opacity="0.644"/><stop offset="0.14" stop-opacity="0.641"/><stop offset="0.29" stop-opacity="0.610"/><stop offset="0.43" stop-opacity="0.479"/><stop offset="0.57" stop-opacity="0.244"/><stop offset="0.71" stop-opacity="0.065"/><stop offset="0.86" stop-opacity="0.008"/><stop offset="1.00" stop-opacity="0.000"/></linearGradient><linearGradient id="g95" x2="0" y2="1"><stop offset="0.00" stop-opacity="0.640"/><stop offset="0.14" stop-opacity="0.638"/><stop offset="0.29" stop-opacity="0.609"/><stop offset="0.43" stop-opacity="0.481"/><stop offset="0.57" stop-opacity="0.247"/><stop offset="0.71" stop-opacity="0.066"/><stop offset="0.86" stop-opacity="0.008"/><stop offset="1.00" stop-opacity="0.000"/></linearGradient><linearGradient id="g96" x2="0" y2="1"><stop offset="0.00" stop-opacity="0.637"/><stop offset="0.14" stop-opacity="0.634"/><stop offset="0.29" stop-opacity="0.607"/><stop offset="0.43" stop-opacity="0.483"/><stop offset="0.57" stop-opacity="0.250"/><stop offset="0.71" stop-opacity="0.067"/><stop offset="0.86" stop-opacity="0.008"/><stop offset="1.00" stop-opacity="0.000"/></linearGradient><linearGradient id="g97" x2="0" y2="1"><stop offset="0.00" stop-opacity="0.633"/><stop offset="0.14" stop-opacity="0.631"/><stop offset="0.29" stop-opacity="0.606"/><stop offset="0.43" stop-opacity="0.485"/><stop offset="0.57" stop-opacity="0.253"/><stop offset="0.71" stop-opacity="0.068"/><stop offset="0.86" stop-opacity="0.008"/><stop offset="1.00" stop-opacity="0.000"/></linearGradient><linearGradient id="g98" x2="0" y2="1"><stop offset="0.00" stop-opacity="0.630"/><stop offset="0.14" stop-opacity="0.628"/><stop offset="0.29" stop-opacity="0.604"/><stop offset="0.43" stop-opacity="0.487"/><stop offset="0.57" stop-opacity="0.256"/><stop offset="0.71" stop-opacity="0.069"/><stop offset="0.86" stop-opacity="0.008"/><stop offset="1.00" stop-opacity="0.000"/></linearGradient><linearGradient id="g99" x2="0" y2="1"><stop offset="0.00" stop-opacity="0.627"/><stop offset="0.14" stop-opacity="0.625"/><stop offset="0.29" stop-opacity="0.602"/><stop offset="0.43" stop-opacity="0.489"/><stop offset="0.57" stop-opacity="0.259"/><stop offset="0.71" stop-opacity="0.071"/><stop offset="0.86" stop-opacity="0.009"/><stop offset="1.00" stop-opacity="0.000"/></linearGradient><linearGradient id="g100" x2="0" y2="1"><stop offset="0.00" stop-opacity="0.623"/><stop offset="0.14" stop-opacity="0.622"/><stop offset="0.29" stop-opacity="0.601"/><stop offset="0.43" stop-opacity="0.491"/><stop offset="0.57" stop-opacity="0.262"/><stop offset="0.71" stop-opacity="0.072"/><stop offset="0.86" stop-opacity="0.009"/><stop offset="1.00" stop-opacity="0.000"/></linearGradient><linearGradient id="g101" x2="0" y2="1"><stop offset="0.00" stop-opacity="0.620"/><stop offset="0.14" stop-opacity="0.618"/><stop offset="0.29" stop-opacity="0.599"/><stop offset="0.43" stop-opacity="0.493"/><stop offset="0.57" stop-opacity="0.266"/><stop offset="0.71" stop-opacity="0.073"/><stop offset="0.86" stop-opacity="0.009"/><stop offset="1.00" stop-opacity="0.000"/></linearGradient><linearGradient id="g102" x2="0" y2="1"><stop offset="0.00" stop-opacity="0.616"/><stop offset="0.14" stop-opacity="0.615"/><stop offset="0.29" stop-opacity="0.597"/><stop offset="0.43" stop-opacity="0.495"/><stop offset="0.57" stop-opacity="0.269"/><stop offset="0.71" stop-opacity="0.074"/><stop offset="0.86" stop-opacity="0.009"/><stop offset="1.00" stop-opacity="0.000"/></linearGradient><linearGradient id="g103" x2="0" y2="1"><stop offset="0.00" stop-opacity="0.613"/><stop offset="0.14" stop-opacity="0.612"/><stop offset="0.29" stop-opacity="0.595"/><stop offset="0.43" stop-opacity="0.497"/><stop offset="0.57" stop-opacity="0.273"/><stop offset="0.71" stop-opacity="0.076"/><stop offset="0.86" stop-opacity="0.009"/><stop offset="1.00" stop-opacity="0.000"/></linearGradient><linearGradient id="g104" x2="0" y2="1"><stop offset="0.00" stop-opacity="0.609"/><stop offset="0.14" stop-opacity="0.608"/><stop offset="0.29" stop-opacity="0.593"/><stop offset="0.43" stop-opacity="0.499"/><stop offset="0.57" stop-opacity="0.277"/><stop offset="0.71" stop-opacity="0.077"/><stop offset="0.86" stop-opacity="0.009"/><stop offset="1.00" stop-opacity="0.000"/></linearGradient><linearGradient id="g105" x2="0" y2="1"><stop offset="0.00" stop-opacity="0.606"/><stop offset="0.14" stop-opacity="0.605"/><stop offset="0.29" stop-opacity="0.591"/><stop offset="0.43" stop-opacity="0.501"/><stop offset="0.57" stop-opacity="0.280"/><stop offset="0.71" stop-opacity="0.078"/><stop offset="0.86" stop-opacity="0.009"/><stop offset="1.00" stop-opacity="0.000"/></linearGradient><linearGradient id="g106" x2="0" y2="1"><stop offset="0.00" stop-opacity="0.602"/><stop offset="0.14" stop-opacity="0.602"/><stop offset="0.29" stop-opacity="0.589"/><stop offset="0.43" stop-opacity="0.503"/><stop offset="0.57" stop-opacity="0.284"/><stop offset="0.71" stop-opacity="0.080"/><stop offset="0.86" stop-opacity="0.009"/><stop offset="1.00" stop-opacity="0.000"/></linearGradient><linearGradient id="g107" x2="0" y2="1"><stop offset="0.00" stop-opacity="0.601"/><stop offset="0.14" stop-opacity="0.600"/><stop offset="0.29" stop-opacity="0.589"/><stop offset="0.43" stop-opacity="0.504"/><stop offset="0.57" stop-opacity="0.287"/><stop offset="0.71" stop-opacity="0.081"/><stop offset="0.86" stop-opacity="0.009"/><stop offset="1.00" stop-opacity="0.000"/></linearGradient><linearGradient id="g108" x2="0" y2="1"><stop offset="0.00" stop-opacity="0.605"/><stop offset="0.14" stop-opacity="0.604"/><stop offset="0.29" stop-opacity="0.591"/><stop offset="0.43" stop-opacity="0.505"/><stop offset="0.57" stop-opacity="0.285"/><stop offset="0.71" stop-opacity="0.080"/><stop offset="0.86" stop-opacity="0.009"/><stop offset="1.00" stop-opacity="0.000"/></linearGradient><linearGradient id="g109" x2="0" y2="1"><stop offset="0.00" stop-opacity="0.608"/><stop offset="0.14" stop-opacity="0.607"/><stop offset="0.29" stop-opacity="0.594"/><stop offset="0.43" stop-opacity="0.505"/><stop offset="0.57" stop-opacity="0.284"/><stop offset="0.71" stop-opacity="0.080"/><stop offset="0.86" stop-opacity="0.009"/><stop offset="1.00" stop-opacity="0.000"/></linearGradient><linearGradient id="g110" x2="0" y2="1"><stop offset="0.00" stop-opacity="0.611"/><stop offset="0.14" stop-opacity="0.611"/><stop offset="0.29" stop-opacity="0.597"/><stop offset="0.43" stop-opacity="0.506"/><stop offset="0.57" stop-opacity="0.283"/><stop offset="0.71" stop-opacity="0.079"/><stop offset="0.86" stop-opacity="0.009"/><stop offset="1.00" stop-opacity="0.000"/></linearGradient><linearGradient id="g111" x2="0" y2="1"><stop offset="0.00" stop-opacity="0.615"/><stop offset="0.14" stop-opacity="0.614"/><stop offset="0.29" stop-opacity="0.599"/><stop offset="0.43" stop-opacity="0.506"/><stop offset="0.57" stop-opacity="0.282"/><stop offset="0.71" stop-opacity="0.079"/><stop offset="0.86" stop-opacity="0.009"/><stop offset="1.00" stop-opacity="0.000"/></linearGradient><linearGradient id="g112" x2="0" y2="1"><stop offset="0.00" stop-opacity="0.618"/><stop offset="0.14" stop-opacity="0.617"/><stop offset="0.29" stop-opacity="0.602"/><stop offset="0.43" stop-opacity="0.506"/><stop offset="0.57" stop-opacity="0.281"/><stop offset="0.71" stop-opacity="0.078"/><stop offset="0.86" stop-opacity="0.009"/><stop offset="1.00" stop-opacity="0.000"/></linearGradient><linearGradient id="g113" x2="0" y2="1"><stop offset="0.00" stop-opacity="0.622"/><stop offset="0.14" stop-opacity="0.621"/><stop offset="0.29" stop-opacity="0.605"/><stop offset="0.43" stop-opacity="0.507"/><stop offset="0.57" stop-opacity="0.279"/><stop offset="0.71" stop-opacity="0.078"/><stop offset="0.86" stop-opacity="0.009"/><stop offset="1.00" stop-opacity="0.000"/></linearGradient><linearGradient id="g114" x2="0" y2="1"><stop offset="0.00" stop-opacity="0.625"/><stop offset="0.14" stop-opacity="0.624"/><stop offset="0.29" stop-opacity="0.608"/><stop offset="0.43" stop-opacity="0.507"/><stop offset="0.57" stop-opacity="0.278"/><stop offset="0.71" stop-opacity="0.077"/><stop offset="0.86" stop-opacity="0.009"/><stop offset="1.00" stop-opacity="0.000"/></linearGradient><linearGradient id="g115" x2="0" y2="1"><stop offset="0.00" stop-opacity="0.629"/><stop offset="0.14" stop-opacity="0.628"/><stop offset="0.29" stop-opacity="0.610"/><stop offset="0.43" stop-opacity="0.508"/><stop offset="0.57" stop-opacity="0.277"/><stop offset="0.71" stop-opacity="0.077"/><stop offset="0.86" stop-opacity="0.009"/><stop offset="1.00" stop-opacity="0.000"/></linearGradient><linearGradient id="g116" x2="0" y2="1"><stop offset="0.00" stop-opacity="0.632"/><stop offset="0.14" stop-opacity="0.631"/><stop offset="0.29" stop-opacity="0.613"/><stop offset="0.43" stop-opacity="0.508"/><stop offset="0.57" stop-opacity="0.277"/><stop offset="0.71" stop-opacity="0.076"/><stop offset="0.86" stop-opacity="0.009"/><stop offset="1.00" stop-opacity="0.000"/></linearGradient><linearGradient id="g117" x2="0" y2="1"><stop offset="0.00" stop-opacity="0.636"/><stop offset="0.14" stop-opacity="0.634"/><stop offset="0.29" stop-opacity="0.615"/><stop offset="0.43" stop-opacity="0.509"/><stop offset="0.57" stop-opacity="0.276"/><stop offset="0.71" stop-opacity="0.076"/><stop offset="0.86" stop-opacity="0.009"/><stop offset="1.00" stop-opacity="0.000"/></linearGradient><linearGradient id="g118" x2="0" y2="1"><stop offset="0.00" stop-opacity="0.639"/><stop offset="0.14" stop-opacity="0.638"/><stop offset="0.29" stop-opacity="0.618"/><stop offset="0.43" stop-opacity="0.509"/><stop offset="0.57" stop-opacity="0.275"/><stop offset="0.71" stop-opacity="0.076"/><stop offset="0.86" stop-opacity="0.009"/><stop offset="1.00" stop-opacity="0.000"/></linearGradient><linearGradient id="g119" x2="0" y2="1"><stop offset="0.00" stop-opacity="0.643"/><stop offset="0.14" stop-opacity="0.641"/><stop offset="0.29" stop-opacity="0.621"/><stop offset="0.43" stop-opacity="0.510"/><stop offset="0.57" stop-opacity="0.274"/><stop offset="0.71" stop-opacity="0.075"/><stop offset="0.86" stop-opacity="0.009"/><stop offset="1.00" stop-opacity="0.000"/></linearGradient><linearGradient id="g120" x2="0" y2="1"><stop offset="0.00" stop-opacity="0.646"/><stop offset="0.14" stop-opacity="0.645"/><stop offset="0.29" stop-opacity="0.623"/><stop offset="0.43" stop-opacity="0.511"/><stop offset="0.57" stop-opacity="0.273"/><stop offset="0.71" stop-opacity="0.075"/><stop offset="0.86" stop-opacity="0.009"/><stop offset="1.00" stop-opacity="0.000"/></linearGradient><linearGradient id="g121" x2="0" y2="1"><stop offset="0.00" stop-opacity="0.650"/><stop offset="0.14" stop-opacity="0.648"/><stop offset="0.29" stop-opacity="0.626"/><stop offset="0.43" stop-opacity="0.511"/><stop offset="0.57" stop-opacity="0.273"/><stop offset="0.71" stop-opacity="0.074"/><stop offset="0.86" stop-opacity="0.009"/><stop offset="1.00" stop-opacity="0.000"/></linearGradient><linearGradient id="g122" x2="0" y2="1"><stop offset="0.00" stop-opacity="0.653"/><stop offset="0.14" stop-opacity="0.651"/><stop offset="0.29" stop-opacity="0.629"/><stop offset="0.43" stop-opacity="0.512"/><stop offset="0.57" stop-opacity="0.272"/><stop offset="0.71" stop-opacity="0.074"/><stop offset="0.86" stop-opacity="0.009"/><stop offset="1.00" stop-opacity="0.000"/></linearGradient><linearGradient id="g123" x2="0" y2="1"><stop offset="0.00" stop-opacity="0.656"/><stop offset="0.14" stop-opacity="0.655"/><stop offset="0.29" stop-opacity="0.631"/><stop offset="0.43" stop-opacity="0.512"/><stop offset="0.57" stop-opacity="0.271"/><stop offset="0.71" stop-opacity="0.074"/><stop offset="0.86" stop-opacity="0.009"/><stop offset="1.00" stop-opacity="0.000"/></linearGradient><linearGradient id="g124" x2="0" y2="1"><stop offset="0.00" stop-opacity="0.660"/><stop offset="0.14" stop-opacity="0.658"/><stop offset="0.29" stop-opacity="0.634"/><stop offset="0.43" stop-opacity="0.513"/><stop offset="0.57" stop-opacity="0.271"/><stop offset="0.71" stop-opacity="0.074"/><stop offset="0.86" stop-opacity="0.009"/><stop offset="1.00" stop-opacity="0.000"/></linearGradient><linearGradient id="g125" x2="0" y2="1"><stop offset="0.00" stop-opacity="0.662"/><stop offset="0.14" stop-opacity="0.659"/><stop offset="0.29" stop-opacity="0.631"/><stop offset="0.43" stop-opacity="0.501"/><stop offset="0.57" stop-opacity="0.258"/><stop offset="0.71" stop-opacity="0.070"/><stop offset="0.86" stop-opacity="0.009"/><stop offset="1.00" stop-opacity="0.000"/></linearGradient><linearGradient id="g126" x2="0" y2="1"><stop offset="0.00" stop-opacity="0.664"/><stop offset="0.14" stop-opacity="0.661"/><stop offset="0.29" stop-opacity="0.627"/><stop offset="0.43" stop-opacity="0.489"/><stop offset="0.57" stop-opacity="0.247"/><stop offset="0.71" stop-opacity="0.066"/><stop offset="0.86" stop-opacity="0.008"/><stop offset="1.00" stop-opacity="0.000"/></linearGradient><linearGradient id="g127" x2="0" y2="1"><stop offset="0.00" stop-opacity="0.666"/><stop offset="0.14" stop-opacity="0.662"/><stop offset="0.29" stop-opacity="0.623"/><stop offset="0.43" stop-opacity="0.477"/><stop offset="0.57" stop-opacity="0.237"/><stop offset="0.71" stop-opacity="0.063"/><stop offset="0.86" stop-opacity="0.008"/><stop offset="1.00" stop-opacity="0.000"/></linearGradient><linearGradient id="g128" x2="0" y2="1"><stop offset="0.00" stop-opacity="0.668"/><stop offset="0.14" stop-opacity="0.663"/><stop offset="0.29" stop-opacity="0.619"/><stop offset="0.43" stop-opacity="0.466"/><stop offset="0.57" stop-opacity="0.227"/><stop offset="0.71" stop-opacity="0.060"/><stop offset="0.86" stop-opacity="0.008"/><stop offset="1.00" stop-opacity="0.000"/></linearGradient><linearGradient id="g129" x2="0" y2="1"><stop offset="0.00" stop-opacity="0.671"/><stop offset="0.14" stop-opacity="0.664"/><stop offset="0.29" stop-opacity="0.615"/><stop offset="0.43" stop-opacity="0.456"/><stop offset="0.57" stop-opacity="0.219"/><stop offset="0.71" stop-opacity="0.058"/><stop offset="0.86" stop-opacity="0.008"/><stop offset="1.00" stop-opacity="0.000"/></linearGradient><linearGradient id="g130" x2="0" y2="1"><stop offset="0.00" stop-opacity="0.673"/><stop offset="0.14" stop-opacity="0.664"/><stop offset="0.29" stop-opacity="0.611"/><stop offset="0.43" stop-opacity="0.446"/><stop offset="0.57" stop-opacity="0.211"/><stop offset="0.71" stop-opacity="0.055"/><stop offset="0.86" stop-opacity="0.007"/><stop offset="1.00" stop-opacity="0.000"/></linearGradient><linearGradient id="g131" x2="0" y2="1"><stop offset="0.00" stop-opacity="0.675"/><stop offset="0.14" stop-opacity="0.665"/><stop offset="0.29" stop-opacity="0.607"/><stop offset="0.43" stop-opacity="0.437"/><stop offset="0.57" stop-opacity="0.204"/><stop offset="0.71" stop-opacity="0.053"/><stop offset="0.86" stop-opacity="0.007"/><stop offset="1.00" stop-opacity="0.000"/></linearGradient><linearGradient id="g132" x2="0" y2="1"><stop offset="0.00" stop-opacity="0.677"/><stop offset="0.14" stop-opacity="0.666"/><stop offset="0.29" stop-opacity="0.602"/><stop offset="0.43" stop-opacity="0.428"/><stop offset="0.57" stop-opacity="0.198"/><stop offset="0.71" stop-opacity="0.052"/><stop offset="0.86" stop-opacity="0.007"/><stop offset="1.00" stop-opacity="0.000"/></linearGradient><linearGradient id="g133" x2="0" y2="1"><stop offset="0.00" stop-opacity="0.679"/><stop offset="0.14" stop-opacity="0.666"/><stop offset="0.29" stop-opacity="0.598"/><stop offset="0.43" stop-opacity="0.420"/><stop offset="0.57" stop-opacity="0.192"/><stop offset="0.71" stop-opacity="0.050"/><stop offset="0.86" stop-opacity="0.007"/><stop offset="1.00" stop-opacity="0.000"/></linearGradient><linearGradient id="g134" x2="0" y2="1"><stop offset="0.00" stop-opacity="0.680"/><stop offset="0.14" stop-opacity="0.665"/><stop offset="0.29" stop-opacity="0.591"/><stop offset="0.43" stop-opacity="0.408"/><stop offset="0.57" stop-opacity="0.184"/><stop offset="0.71" stop-opacity="0.048"/><stop offset="0.86" stop-opacity="0.007"/><stop offset="1.00" stop-opacity="0.000"/></linearGradient><linearGradient id="g135" x2="0" y2="1"><stop offset="0.00" stop-opacity="0.682"/><stop offset="0.14" stop-opacity="0.663"/><stop offset="0.29" stop-opacity="0.579"/><stop offset="0.43" stop-opacity="0.390"/><stop offset="0.57" stop-opacity="0.173"/><stop offset="0.71" stop-opacity="0.045"/><stop offset="0.86" stop-opacity="0.006"/><stop offset="1.00" stop-opacity="0.000"/></linearGradient><linearGradient id="g136" x2="0" y2="1"><stop offset="0.00" stop-opacity="0.683"/><stop offset="0.14" stop-opacity="0.660"/><stop offset="0.29" stop-opacity="0.567"/><stop offset="0.43" stop-opacity="0.374"/><stop offset="0.57" stop-opacity="0.163"/><stop offset="0.71" stop-opacity="0.042"/><stop offset="0.86" stop-opacity="0.006"/><stop offset="1.00" stop-opacity="0.000"/></linearGradient><linearGradient id="g137" x2="0" y2="1"><stop offset="0.00" stop-opacity="0.684"/><stop offset="0.14" stop-opacity="0.656"/><stop offset="0.29" stop-opacity="0.555"/><stop offset="0.43" stop-opacity="0.359"/><stop offset="0.57" stop-opacity="0.154"/><stop offset="0.71" stop-opacity="0.040"/><stop offset="0.86" stop-opacity="0.006"/><stop offset="1.00" stop-opacity="0.000"/></linearGradient><linearGradient id="g138" x2="0" y2="1"><stop offset="0.00" stop-opacity="0.685"/><stop offset="0.14" stop-opacity="0.653"/><stop offset="0.29" stop-opacity="0.544"/><stop offset="0.43" stop-opacity="0.345"/><stop offset="0.57" stop-opacity="0.146"/><stop offset="0.71" stop-opacity="0.038"/><stop offset="0.86" stop-opacity="0.006"/><stop offset="1.00" stop-opacity="0.000"/></linearGradient><linearGradient id="g139" x2="0" y2="1"><stop offset="0.00" stop-opacity="0.686"/><stop offset="0.14" stop-opacity="0.649"/><stop offset="0.29" stop-opacity="0.533"/><stop offset="0.43" stop-opacity="0.332"/><stop offset="0.57" stop-opacity="0.139"/><stop offset="0.71" stop-opacity="0.036"/><stop offset="0.86" stop-opacity="0.005"/><stop offset="1.00" stop-opacity="0.000"/></linearGradient><linearGradient id="g140" x2="0" y2="1"><stop offset="0.00" stop-opacity="0.686"/><stop offset="0.14" stop-opacity="0.644"/><stop offset="0.29" stop-opacity="0.522"/><stop offset="0.43" stop-opacity="0.321"/><stop offset="0.57" stop-opacity="0.133"/><stop offset="0.71" stop-opacity="0.034"/><stop offset="0.86" stop-opacity="0.005"/><stop offset="1.00" stop-opacity="0.000"/></linearGradient><linearGradient id="g141" x2="0" y2="1"><stop offset="0.00" stop-opacity="0.686"/><stop offset="0.14" stop-opacity="0.640"/><stop offset="0.29" stop-opacity="0.512"/><stop offset="0.43" stop-opacity="0.310"/><stop offset="0.57" stop-opacity="0.128"/><stop offset="0.71" stop-opacity="0.033"/><stop offset="0.86" stop-opacity="0.005"/><stop offset="1.00" stop-opacity="0.000"/></linearGradient><linearGradient id="g142" x2="0" y2="1"><stop offset="0.00" stop-opacity="0.687"/><stop offset="0.14" stop-opacity="0.636"/><stop offset="0.29" stop-opacity="0.502"/><stop offset="0.43" stop-opacity="0.300"/><stop offset="0.57" stop-opacity="0.123"/><stop offset="0.71" stop-opacity="0.032"/><stop offset="0.86" stop-opacity="0.005"/><stop offset="1.00" stop-opacity="0.000"/></linearGradient><linearGradient id="g143" x2="0" y2="1"><stop offset="0.00" stop-opacity="0.686"/><stop offset="0.14" stop-opacity="0.635"/><stop offset="0.29" stop-opacity="0.502"/><stop offset="0.43" stop-opacity="0.300"/><stop offset="0.57" stop-opacity="0.123"/><stop offset="0.71" stop-opacity="0.032"/><stop offset="0.86" stop-opacity="0.005"/><stop offset="1.00" stop-opacity="0.000"/></linearGradient><linearGradient id="g144" x2="0" y2="1"><stop offset="0.00" stop-opacity="0.685"/><stop offset="0.14" stop-opacity="0.636"/><stop offset="0.29" stop-opacity="0.506"/><stop offset="0.43" stop-opacity="0.304"/><stop offset="0.57" stop-opacity="0.125"/><stop offset="0.71" stop-opacity="0.032"/><stop offset="0.86" stop-opacity="0.005"/><stop offset="1.00" stop-opacity="0.000"/></linearGradient><linearGradient id="g145" x2="0" y2="1"><stop offset="0.00" stop-opacity="0.684"/><stop offset="0.14" stop-opacity="0.637"/><stop offset="0.29" stop-opacity="0.509"/><stop offset="0.43" stop-opacity="0.307"/><stop offset="0.57" stop-opacity="0.126"/><stop offset="0.71" stop-opacity="0.033"/><stop offset="0.86" stop-opacity="0.005"/><stop offset="1.00" stop-opacity="0.000"/></linearGradient><linearGradient id="g146" x2="0" y2="1"><stop offset="0.00" stop-opacity="0.683"/><stop offset="0.14" stop-opacity="0.638"/><stop offset="0.29" stop-opacity="0.512"/><stop offset="0.43" stop-opacity="0.311"/><stop offset="0.57" stop-opacity="0.128"/><stop offset="0.71" stop-opacity="0.033"/><stop offset="0.86" stop-opacity="0.005"/><stop offset="1.00" stop-opacity="0.000"/></linearGradient><linearGradient id="g147" x2="0" y2="1"><stop offset="0.00" stop-opacity="0.682"/><stop offset="0.14" stop-opacity="0.639"/><stop offset="0.29" stop-opacity="0.515"/><stop offset="0.43" stop-opacity="0.314"/><stop offset="0.57" stop-opacity="0.130"/><stop offset="0.71" stop-opacity="0.034"/><stop offset="0.86" stop-opacity="0.005"/><stop offset="1.00" stop-opacity="0.000"/></linearGradient><linearGradient id="g148" x2="0" y2="1"><stop offset="0.00" stop-opacity="0.681"/><stop offset="0.14" stop-opacity="0.639"/><stop offset="0.29" stop-opacity="0.517"/><stop offset="0.43" stop-opacity="0.317"/><stop offset="0.57" stop-opacity="0.131"/><stop offset="0.71" stop-opacity="0.034"/><stop offset="0.86" stop-opacity="0.005"/><stop offset="1.00" stop-opacity="0.000"/></linearGradient><linearGradient id="g149" x2="0" y2="1"><stop offset="0.00" stop-opacity="0.680"/><stop offset="0.14" stop-opacity="0.639"/><stop offset="0.29" stop-opacity="0.520"/><stop offset="0.43" stop-opacity="0.320"/><stop offset="0.57" stop-opacity="0.133"/><stop offset="0.71" stop-opacity="0.034"/><stop offset="0.86" stop-opacity="0.005"/><stop offset="1.00" stop-opacity="0.000"/></linearGradient><linearGradient id="g150" x2="0" y2="1"><stop offset="0.00" stop-opacity="0.679"/><stop offset="0.14" stop-opacity="0.640"/><stop offset="0.29" stop-opacity="0.522"/><stop offset="0.43" stop-opacity="0.323"/><stop offset="0.57" stop-opacity="0.134"/><stop offset="0.71" stop-opacity="0.035"/><stop offset="0.86" stop-opacity="0.005"/><stop offset="1.00" stop-opacity="0.000"/></linearGradient><linearGradient id="g151" x2="0" y2="1"><stop offset="0.00" stop-opacity="0.677"/><stop offset="0.14" stop-opacity="0.640"/><stop offset="0.29" stop-opacity="0.524"/><stop offset="0.43" stop-opacity="0.325"/><stop offset="0.57" stop-opacity="0.136"/><stop offset="0.71" stop-opacity="0.035"/><stop offset="0.86" stop-opacity="0.005"/><stop offset="1.00" stop-opacity="0.000"/></linearGradient><linearGradient id="g152" x2="0" y2="1"><stop offset="0.00" stop-opacity="0.676"/><stop offset="0.14" stop-opacity="0.640"/><stop offset="0.29" stop-opacity="0.526"/><stop offset="0.43" stop-opacity="0.328"/><stop offset="0.57" stop-opacity="0.137"/><stop offset="0.71" stop-opacity="0.036"/><stop offset="0.86" stop-opacity="0.005"/><stop offset="1.00" stop-opacity="0.000"/></linearGradient><linearGradient id="g153" x2="0" y2="1"><stop offset="0.00" stop-opacity="0.675"/><stop offset="0.14" stop-opacity="0.640"/><stop offset="0.29" stop-opacity="0.527"/><stop offset="0.43" stop-opacity="0.330"/><stop offset="0.57" stop-opacity="0.139"/><stop offset="0.71" stop-opacity="0.036"/><stop offset="0.86" stop-opacity="0.005"/><stop offset="1.00" stop-opacity="0.000"/></linearGradient><linearGradient id="g154" x2="0" y2="1"><stop offset="0.00" stop-opacity="0.671"/><stop offset="0.14" stop-opacity="0.638"/><stop offset="0.29" stop-opacity="0.528"/><stop offset="0.43" stop-opacity="0.332"/><stop offset="0.57" stop-opacity="0.140"/><stop offset="0.71" stop-opacity="0.036"/><stop offset="0.86" stop-opacity="0.005"/><stop offset="1.00" stop-opacity="0.000"/></linearGradient><linearGradient id="g155" x2="0" y2="1"><stop offset="0.00" stop-opacity="0.660"/><stop offset="0.14" stop-opacity="0.628"/><stop offset="0.29" stop-opacity="0.522"/><stop offset="0.43" stop-opacity="0.330"/><stop offset="0.57" stop-opacity="0.140"/><stop offset="0.71" stop-opacity="0.036"/><stop offset="0.86" stop-opacity="0.005"/><stop offset="1.00" stop-opacity="0.000"/></linearGradient><linearGradient id="g156" x2="0" y2="1"><stop offset="0.00" stop-opacity="0.649"/><stop offset="0.14" stop-opacity="0.621"/><stop offset="0.29" stop-opacity="0.522"/><stop offset="0.43" stop-opacity="0.335"/><stop offset="0.57" stop-opacity="0.143"/><stop offset="0.71" stop-opacity="0.037"/><stop offset="0.86" stop-opacity="0.005"/><stop offset="1.00" stop-opacity="0.000"/></linearGradient><linearGradient id="g157" x2="0" y2="1"><stop offset="0.00" stop-opacity="0.637"/><stop offset="0.14" stop-opacity="0.613"/><stop offset="0.29" stop-opacity="0.521"/><stop offset="0.43" stop-opacity="0.339"/><stop offset="0.57" stop-opacity="0.146"/><stop offset="0.71" stop-opacity="0.038"/><stop offset="0.86" stop-opacity="0.006"/><stop offset="1.00" stop-opacity="0.000"/></linearGradient><linearGradient id="g158" x2="0" y2="1"><stop offset="0.00" stop-opacity="0.626"/><stop offset="0.14" stop-opacity="0.604"/><stop offset="0.29" stop-opacity="0.519"/><stop offset="0.43" stop-opacity="0.342"/><stop offset="0.57" stop-opacity="0.149"/><stop offset="0.71" stop-opacity="0.038"/><stop offset="0.86" stop-opacity="0.006"/><stop offset="1.00" stop-opacity="0.000"/></linearGradient><linearGradient id="g159" x2="0" y2="1"><stop offset="0.00" stop-opacity="0.614"/><stop offset="0.14" stop-opacity="0.596"/><stop offset="0.29" stop-opacity="0.517"/><stop offset="0.43" stop-opacity="0.345"/><stop offset="0.57" stop-opacity="0.151"/><stop offset="0.71" stop-opacity="0.039"/><stop offset="0.86" stop-opacity="0.006"/><stop offset="1.00" stop-opacity="0.000"/></linearGradient><linearGradient id="g160" x2="0" y2="1"><stop offset="0.00" stop-opacity="0.602"/><stop offset="0.14" stop-opacity="0.586"/><stop offset="0.29" stop-opacity="0.514"/><stop offset="0.43" stop-opacity="0.347"/><stop offset="0.57" stop-opacity="0.154"/><stop offset="0.71" stop-opacity="0.040"/><stop offset="0.86" stop-opacity="0.006"/><stop offset="1.00" stop-opacity="0.000"/></linearGradient><linearGradient id="g161" x2="0" y2="1"><stop offset="0.00" stop-opacity="0.591"/><stop offset="0.14" stop-opacity="0.577"/><stop offset="0.29" stop-opacity="0.510"/><stop offset="0.43" stop-opacity="0.349"/><stop offset="0.57" stop-opacity="0.157"/><stop offset="0.71" stop-opacity="0.041"/><stop offset="0.86" stop-opacity="0.006"/><stop offset="1.00" stop-opacity="0.000"/></linearGradient><linearGradient id="g162" x2="0" y2="1"><stop offset="0.00" stop-opacity="0.579"/><stop offset="0.14" stop-opacity="0.567"/><stop offset="0.29" stop-opacity="0.505"/><stop offset="0.43" stop-opacity="0.351"/><stop offset="0.57" stop-opacity="0.159"/><stop offset="0.71" stop-opacity="0.041"/><stop offset="0.86" stop-opacity="0.006"/><stop offset="1.00" stop-opacity="0.000"/></linearGradient><linearGradient id="g163" x2="0" y2="1"><stop offset="0.00" stop-opacity="0.569"/><stop offset="0.14" stop-opacity="0.559"/><stop offset="0.29" stop-opacity="0.502"/><stop offset="0.43" stop-opacity="0.353"/><stop offset="0.57" stop-opacity="0.162"/><stop offset="0.71" stop-opacity="0.042"/><stop offset="0.86" stop-opacity="0.006"/><stop offset="1.00" stop-opacity="0.000"/></linearGradient><linearGradient id="g164" x2="0" y2="1"><stop offset="0.00" stop-opacity="0.559"/><stop offset="0.14" stop-opacity="0.550"/><stop offset="0.29" stop-opacity="0.499"/><stop offset="0.43" stop-opacity="0.355"/><stop offset="0.57" stop-opacity="0.165"/><stop offset="0.71" stop-opacity="0.043"/><stop offset="0.86" stop-opacity="0.006"/><stop offset="1.00" stop-opacity="0.000"/></linearGradient><linearGradient id="g165" x2="0" y2="1"><stop offset="0.00" stop-opacity="0.550"/><stop offset="0.14" stop-opacity="0.542"/><stop offset="0.29" stop-opacity="0.495"/><stop offset="0.43" stop-opacity="0.357"/><stop offset="0.57" stop-opacity="0.167"/><stop offset="0.71" stop-opacity="0.044"/><stop offset="0.86" stop-opacity="0.006"/><stop offset="1.00" stop-opacity="0.000"/></linearGradient><linearGradient id="g166" x2="0" y2="1"><stop offset="0.00" stop-opacity="0.540"/><stop offset="0.14" stop-opacity="0.533"/><stop offset="0.29" stop-opacity="0.490"/><stop offset="0.43" stop-opacity="0.358"/><stop offset="0.57" stop-opacity="0.170"/><stop offset="0.71" stop-opacity="0.044"/><stop offset="0.86" stop-opacity="0.006"/><stop offset="1.00" stop-opacity="0.000"/></linearGradient><linearGradient id="g167" x2="0" y2="1"><stop offset="0.00" stop-opacity="0.530"/><stop offset="0.14" stop-opacity="0.524"/><stop offset="0.29" stop-opacity="0.485"/><stop offset="0.43" stop-opacity="0.359"/><stop offset="0.57" stop-opacity="0.172"/><stop offset="0.71" stop-opacity="0.045"/><stop offset="0.86" stop-opacity="0.006"/><stop offset="1.00" stop-opacity="0.000"/></linearGradient><linearGradient id="g168" x2="0" y2="1"><stop offset="0.00" stop-opacity="0.520"/><stop offset="0.14" stop-opacity="0.515"/><stop offset="0.29" stop-opacity="0.480"/><stop offset="0.43" stop-opacity="0.359"/><stop offset="0.57" stop-opacity="0.174"/><stop offset="0.71" stop-opacity="0.046"/><stop offset="0.86" stop-opacity="0.006"/><stop offset="1.00" stop-opacity="0.000"/></linearGradient><linearGradient id="g169" x2="0" y2="1"><stop offset="0.00" stop-opacity="0.510"/><stop offset="0.14" stop-opacity="0.506"/><stop offset="0.29" stop-opacity="0.474"/><stop offset="0.43" stop-opacity="0.359"/><stop offset="0.57" stop-opacity="0.176"/><stop offset="0.71" stop-opacity="0.047"/><stop offset="0.86" stop-opacity="0.006"/><stop offset="1.00" stop-opacity="0.000"/></linearGradient><linearGradient id="g170" x2="0" y2="1"><stop offset="0.00" stop-opacity="0.500"/><stop offset="0.14" stop-opacity="0.497"/><stop offset="0.29" stop-opacity="0.468"/><stop offset="0.43" stop-opacity="0.359"/><stop offset="0.57" stop-opacity="0.178"/><stop offset="0.71" stop-opacity="0.047"/><stop offset="0.86" stop-opacity="0.006"/><stop offset="1.00" stop-opacity="0.000"/></linearGradient><linearGradient id="g171" x2="0" y2="1"><stop offset="0.00" stop-opacity="0.490"/><stop offset="0.14" stop-opacity="0.488"/><stop offset="0.29" stop-opacity="0.462"/><stop offset="0.43" stop-opacity="0.358"/><stop offset="0.57" stop-opacity="0.180"/><stop offset="0.71" stop-opacity="0.048"/><stop offset="0.86" stop-opacity="0.006"/><stop offset="1.00" stop-opacity="0.000"/></linearGradient><linearGradient id="g172" x2="0" y2="1"><stop offset="0.00" stop-opacity="0.480"/><stop offset="0.14" stop-opacity="0.478"/><stop offset="0.29" stop-opacity="0.455"/><stop offset="0.43" stop-opacity="0.356"/><stop offset="0.57" stop-opacity="0.181"/><stop offset="0.71" stop-opacity="0.049"/><stop offset="0.86" stop-opacity="0.006"/><stop offset="1.00" stop-opacity="0.000"/></linearGradient><linearGradient id="g173" x2="0" y2="1"><stop offset="0.00" stop-opacity="0.470"/><stop offset="0.14" stop-opacity="0.469"/><stop offset="0.29" stop-opacity="0.448"/><stop offset="0.43" stop-opacity="0.355"/><stop offset="0.57" stop-opacity="0.183"/><stop offset="0.71" stop-opacity="0.049"/><stop offset="0.86" stop-opacity="0.006"/><stop offset="1.00" stop-opacity="0.000"/></linearGradient><linearGradient id="g174" x2="0" y2="1"><stop offset="0.00" stop-opacity="0.460"/><stop offset="0.14" stop-opacity="0.459"/><stop offset="0.29" stop-opacity="0.441"/><stop offset="0.43" stop-opacity="0.355"/><stop offset="0.57" stop-opacity="0.186"/><stop offset="0.71" stop-opacity="0.050"/><stop offset="0.86" stop-opacity="0.006"/><stop offset="1.00" stop-opacity="0.000"/></linearGradient><linearGradient id="g175" x2="0" y2="1"><stop offset="0.00" stop-opacity="0.450"/><stop offset="0.14" stop-opacity="0.449"/><stop offset="0.29" stop-opacity="0.434"/><stop offset="0.43" stop-opacity="0.354"/><stop offset="0.57" stop-opacity="0.189"/><stop offset="0.71" stop-opacity="0.052"/><stop offset="0.86" stop-opacity="0.006"/><stop offset="1.00" stop-opacity="0.000"/></linearGradient><linearGradient id="g176" x2="0" y2="1"><stop offset="0.00" stop-opacity="0.439"/><stop offset="0.14" stop-opacity="0.439"/><stop offset="0.29" stop-opacity="0.426"/><stop offset="0.43" stop-opacity="0.353"/><stop offset="0.57" stop-opacity="0.192"/><stop offset="0.71" stop-opacity="0.053"/><stop offset="0.86" stop-opacity="0.006"/><stop offset="1.00" stop-opacity="0.000"/></linearGradient><linearGradient id="g177" x2="0" y2="1"><stop offset="0.00" stop-opacity="0.429"/><stop offset="0.14" stop-opacity="0.428"/><stop offset="0.29" stop-opacity="0.418"/><stop offset="0.43" stop-opacity="0.351"/><stop offset="0.57" stop-opacity="0.194"/><stop offset="0.71" stop-opacity="0.054"/><stop offset="0.86" stop-opacity="0.006"/><stop offset="1.00" stop-opacity="0.000"/></linearGradient><linearGradient id="g178" x2="0" y2="1"><stop offset="0.00" stop-opacity="0.419"/><stop offset="0.14" stop-opacity="0.418"/><stop offset="0.29" stop-opacity="0.409"/><stop offset="0.43" stop-opacity="0.349"/><stop offset="0.57" stop-opacity="0.197"/><stop offset="0.71" stop-opacity="0.055"/><stop offset="0.86" stop-opacity="0.006"/><stop offset="1.00" stop-opacity="0.000"/></linearGradient><linearGradient id="g179" x2="0" y2="1"><stop offset="0.00" stop-opacity="0.408"/><stop offset="0.14" stop-opacity="0.408"/><stop offset="0.29" stop-opacity="0.400"/><stop offset="0.43" stop-opacity="0.345"/><stop offset="0.57" stop-opacity="0.199"/><stop offset="0.71" stop-opacity="0.056"/><stop offset="0.86" stop-opacity="0.007"/><stop offset="1.00" stop-opacity="0.000"/></linearGradient><linearGradient id="g180" x2="0" y2="1"><stop offset="0.00" stop-opacity="0.398"/><stop offset="0.14" stop-opacity="0.398"/><stop offset="0.29" stop-opacity="0.391"/><stop offset="0.43" stop-opacity="0.342"/><stop offset="0.57" stop-opacity="0.200"/><stop offset="0.71" stop-opacity="0.057"/><stop offset="0.86" stop-opacity="0.007"/><stop offset="1.00" stop-opacity="0.000"/></linearGradient><linearGradient id="g181" x2="0" y2="1"><stop offset="0.00" stop-opacity="0.387"/><stop offset="0.14" stop-opacity="0.387"/><stop offset="0.29" stop-opacity="0.382"/><stop offset="0.43" stop-opacity="0.337"/><stop offset="0.57" stop-opacity="0.201"/><stop offset="0.71" stop-opacity="0.058"/><stop offset="0.86" stop-opacity="0.007"/><stop offset="1.00" stop-opacity="0.000"/></linearGradient><linearGradient id="g182" x2="0" y2="1"><stop offset="0.00" stop-opacity="0.377"/><stop offset="0.14" stop-opacity="0.377"/><stop offset="0.29" stop-opacity="0.373"/><stop offset="0.43" stop-opacity="0.333"/><stop offset="0.57" stop-opacity="0.202"/><stop offset="0.71" stop-opacity="0.059"/><stop offset="0.86" stop-opacity="0.007"/><stop offset="1.00" stop-opacity="0.000"/></linearGradient><linearGradient id="g183" x2="0" y2="1"><stop offset="0.00" stop-opacity="0.367"/><stop offset="0.14" stop-opacity="0.367"/><stop offset="0.29" stop-opacity="0.363"/><stop offset="0.43" stop-opacity="0.327"/><stop offset="0.57" stop-opacity="0.202"/><stop offset="0.71" stop-opacity="0.060"/><stop offset="0.86" stop-opacity="0.007"/><stop offset="1.00" stop-opacity="0.000"/></linearGradient><linearGradient id="g184" x2="0" y2="1"><stop offset="0.00" stop-opacity="0.358"/><stop offset="0.14" stop-opacity="0.358"/><stop offset="0.29" stop-opacity="0.356"/><stop offset="0.43" stop-opacity="0.323"/><stop offset="0.57" stop-opacity="0.204"/><stop offset="0.71" stop-opacity="0.061"/><stop offset="0.86" stop-opacity="0.007"/><stop offset="1.00" stop-opacity="0.000"/></linearGradient><linearGradient id="g185" x2="0" y2="1"><stop offset="0.00" stop-opacity="0.354"/><stop offset="0.14" stop-opacity="0.354"/><stop offset="0.29" stop-opacity="0.351"/><stop offset="0.43" stop-opacity="0.322"/><stop offset="0.57" stop-opacity="0.207"/><stop offset="0.71" stop-opacity="0.063"/><stop offset="0.86" stop-opacity="0.007"/><stop offset="1.00" stop-opacity="0.000"/></linearGradient><linearGradient id="g186" x2="0" y2="1"><stop offset="0.00" stop-opacity="0.349"/><stop offset="0.14" stop-opacity="0.349"/><stop offset="0.29" stop-opacity="0.347"/><stop offset="0.43" stop-opacity="0.321"/><stop offset="0.57" stop-opacity="0.210"/><stop offset="0.71" stop-opacity="0.065"/><stop offset="0.86" stop-opacity="0.007"/><stop offset="1.00" stop-opacity="0.000"/></linearGradient><linearGradient id="g187" x2="0" y2="1"><stop offset="0.00" stop-opacity="0.344"/><stop offset="0.14" stop-opacity="0.344"/><stop offset="0.29" stop-opacity="0.343"/><stop offset="0.43" stop-opacity="0.320"/><stop offset="0.57" stop-opacity="0.212"/><stop offset="0.71" stop-opacity="0.066"/><stop offset="0.86" stop-opacity="0.007"/><stop offset="1.00" stop-opacity="0.000"/></linearGradient><linearGradient id="g188" x2="0" y2="1"><stop offset="0.00" stop-opacity="0.340"/><stop offset="0.14" stop-opacity="0.340"/><stop offset="0.29" stop-opacity="0.338"/><stop offset="0.43" stop-opacity="0.318"/><stop offset="0.57" stop-opacity="0.215"/><stop offset="0.71" stop-opacity="0.068"/><stop offset="0.86" stop-opacity="0.007"/><stop offset="1.00" stop-opacity="0.000"/></linearGradient><linearGradient id="g189" x2="0" y2="1"><stop offset="0.00" stop-opacity="0.335"/><stop offset="0.14" stop-opacity="0.335"/><stop offset="0.29" stop-opacity="0.334"/><stop offset="0.43" stop-opacity="0.316"/><stop offset="0.57" stop-opacity="0.217"/><stop offset="0.71" stop-opacity="0.070"/><stop offset="0.86" stop-opacity="0.007"/><stop offset="1.00" stop-opacity="0.000"/></linearGradient><linearGradient id="g190" x2="0" y2="1"><stop offset="0.00" stop-opacity="0.330"/><stop offset="0.14" stop-opacity="0.330"/><stop offset="0.29" stop-opacity="0.329"/><stop offset="0.43" stop-opacity="0.313"/><stop offset="0.57" stop-opacity="0.219"/><stop offset="0.71" stop-opacity="0.071"/><stop offset="0.86" stop-opacity="0.008"/><stop offset="1.00" stop-opacity="0.000"/></linearGradient><linearGradient id="g191" x2="0" y2="1"><stop offset="0.00" stop-opacity="0.326"/><stop offset="0.14" stop-opacity="0.326"/><stop offset="0.29" stop-opacity="0.325"/><stop offset="0.43" stop-opacity="0.310"/><stop offset="0.57" stop-opacity="0.221"/><stop offset="0.71" stop-opacity="0.073"/><stop offset="0.86" stop-opacity="0.008"/><stop offset="1.00" stop-opacity="0.000"/></linearGradient><linearGradient id="g192" x2="0" y2="1"><stop offset="0.00" stop-opacity="0.321"/><stop offset="0.14" stop-opacity="0.321"/><stop offset="0.29" stop-opacity="0.320"/><stop offset="0.43" stop-opacity="0.308"/><stop offset="0.57" stop-opacity="0.222"/><stop offset="0.71" stop-opacity="0.074"/><stop offset="0.86" stop-opacity="0.008"/><stop offset="1.00" stop-opacity="0.000"/></linearGradient><linearGradient id="g193" x2="0" y2="1"><stop offset="0.00" stop-opacity="0.316"/><stop offset="0.14" stop-opacity="0.316"/><stop offset="0.29" stop-opacity="0.316"/><stop offset="0.43" stop-opacity="0.305"/><stop offset="0.57" stop-opacity="0.223"/><stop offset="0.71" stop-opacity="0.076"/><stop offset="0.86" stop-opacity="0.008"/><stop offset="1.00" stop-opacity="0.000"/></linearGradient><linearGradient id="g194" x2="0" y2="1"><stop offset="0.00" stop-opacity="0.312"/><stop offset="0.14" stop-opacity="0.312"/><stop offset="0.29" stop-opacity="0.311"/><stop offset="0.43" stop-opacity="0.301"/><stop offset="0.57" stop-opacity="0.224"/><stop offset="0.71" stop-opacity="0.077"/><stop offset="0.86" stop-opacity="0.008"/><stop offset="1.00" stop-opacity="0.000"/></linearGradient><linearGradient id="g195" x2="0" y2="1"><stop offset="0.00" stop-opacity="0.307"/><stop offset="0.14" stop-opacity="0.307"/><stop offset="0.29" stop-opacity="0.307"/><stop offset="0.43" stop-opacity="0.298"/><stop offset="0.57" stop-opacity="0.225"/><stop offset="0.71" stop-opacity="0.079"/><stop offset="0.86" stop-opacity="0.008"/><stop offset="1.00" stop-opacity="0.000"/></linearGradient><linearGradient id="g196" x2="0" y2="1"><stop offset="0.00" stop-opacity="0.302"/><stop offset="0.14" stop-opacity="0.302"/><stop offset="0.29" stop-opacity="0.302"/><stop offset="0.43" stop-opacity="0.294"/><stop offset="0.57" stop-opacity="0.225"/><stop offset="0.71" stop-opacity="0.080"/><stop offset="0.86" stop-opacity="0.008"/><stop offset="1.00" stop-opacity="0.000"/></linearGradient><linearGradient id="g197" x2="0" y2="1"><stop offset="0.00" stop-opacity="0.297"/><stop offset="0.14" stop-opacity="0.297"/><stop offset="0.29" stop-opacity="0.297"/><stop offset="0.43" stop-opacity="0.291"/><stop offset="0.57" stop-opacity="0.226"/><stop offset="0.71" stop-opacity="0.082"/><stop offset="0.86" stop-opacity="0.009"/><stop offset="1.00" stop-opacity="0.000"/></linearGradient><linearGradient id="g198" x2="0" y2="1"><stop offset="0.00" stop-opacity="0.293"/><stop offset="0.14" stop-opacity="0.293"/><stop offset="0.29" stop-opacity="0.293"/><stop offset="0.43" stop-opacity="0.287"/><stop offset="0.57" stop-opacity="0.226"/><stop offset="0.71" stop-opacity="0.083"/><stop offset="0.86" stop-opacity="0.009"/><stop offset="1.00" stop-opacity="0.000"/></linearGradient><linearGradient id="g199" x2="0" y2="1"><stop offset="0.00" stop-opacity="0.288"/><stop offset="0.14" stop-opacity="0.288"/><stop offset="0.29" stop-opacity="0.288"/><stop offset="0.43" stop-opacity="0.283"/><stop offset="0.57" stop-opacity="0.225"/><stop offset="0.71" stop-opacity="0.084"/><stop offset="0.86" stop-opacity="0.009"/><stop offset="1.00" stop-opacity="0.000"/></linearGradient><linearGradient id="g200" x2="0" y2="1"><stop offset="0.00" stop-opacity="0.283"/><stop offset="0.14" stop-opacity="0.283"/><stop offset="0.29" stop-opacity="0.283"/><stop offset="0.43" stop-opacity="0.279"/><stop offset="0.57" stop-opacity="0.225"/><stop offset="0.71" stop-opacity="0.085"/><stop offset="0.86" stop-opacity="0.009"/><stop offset="1.00" stop-opacity="0.000"/></linearGradient><linearGradient id="g201" x2="0" y2="1"><stop offset="0.00" stop-opacity="0.279"/><stop offset="0.14" stop-opacity="0.279"/><stop offset="0.29" stop-opacity="0.279"/><stop offset="0.43" stop-opacity="0.275"/><stop offset="0.57" stop-opacity="0.224"/><stop offset="0.71" stop-opacity="0.087"/><stop offset="0.86" stop-opacity="0.009"/><stop offset="1.00" stop-opacity="0.000"/></linearGradient><linearGradient id="g202" x2="0" y2="1"><stop offset="0.00" stop-opacity="0.275"/><stop offset="0.14" stop-opacity="0.275"/><stop offset="0.29" stop-opacity="0.275"/><stop offset="0.43" stop-opacity="0.272"/><stop offset="0.57" stop-opacity="0.224"/><stop offset="0.71" stop-opacity="0.087"/><stop offset="0.86" stop-opacity="0.009"/><stop offset="1.00" stop-opacity="0.000"/></linearGradient><linearGradient id="g203" x2="0" y2="1"><stop offset="0.00" stop-opacity="0.274"/><stop offset="0.14" stop-opacity="0.274"/><stop offset="0.29" stop-opacity="0.274"/><stop offset="0.43" stop-opacity="0.271"/><stop offset="0.57" stop-opacity="0.223"/><stop offset="0.71" stop-opacity="0.088"/><stop offset="0.86" stop-opacity="0.009"/><stop offset="1.00" stop-opacity="0.000"/></linearGradient><linearGradient id="g204" x2="0" y2="1"><stop offset="0.00" stop-opacity="0.273"/><stop offset="0.14" stop-opacity="0.273"/><stop offset="0.29" stop-opacity="0.273"/><stop offset="0.43" stop-opacity="0.270"/><stop offset="0.57" stop-opacity="0.223"/><stop offset="0.71" stop-opacity="0.088"/><stop offset="0.86" stop-opacity="0.009"/><stop offset="1.00" stop-opacity="0.000"/></linearGradient><linearGradient id="g205" x2="0" y2="1"><stop offset="0.00" stop-opacity="0.273"/><stop offset="0.14" stop-opacity="0.273"/><stop offset="0.29" stop-opacity="0.273"/><stop offset="0.43" stop-opacity="0.270"/><stop offset="0.57" stop-opacity="0.223"/><stop offset="0.71" stop-opacity="0.088"/><stop offset="0.86" stop-opacity="0.009"/><stop offset="1.00" stop-opacity="0.000"/></linearGradient><linearGradient id="g206" x2="0" y2="1"><stop offset="0.00" stop-opacity="0.272"/><stop offset="0.14" stop-opacity="0.272"/><stop offset="0.29" stop-opacity="0.272"/><stop offset="0.43" stop-opacity="0.269"/><stop offset="0.57" stop-opacity="0.223"/><stop offset="0.71" stop-opacity="0.088"/><stop offset="0.86" stop-opacity="0.009"/><stop offset="1.00" stop-opacity="0.000"/></linearGradient><linearGradient id="g207" x2="0" y2="1"><stop offset="0.00" stop-opacity="0.271"/><stop offset="0.14" stop-opacity="0.271"/><stop offset="0.29" stop-opacity="0.271"/><stop offset="0.43" stop-opacity="0.268"/><stop offset="0.57" stop-opacity="0.222"/><stop offset="0.71" stop-opacity="0.088"/><stop offset="0.86" stop-opacity="0.009"/><stop offset="1.00" stop-opacity="0.000"/></linearGradient><linearGradient id="g208" x2="0" y2="1"><stop offset="0.00" stop-opacity="0.268"/><stop offset="0.14" stop-opacity="0.268"/><stop offset="0.29" stop-opacity="0.268"/><stop offset="0.43" stop-opacity="0.265"/><stop offset="0.57" stop-opacity="0.220"/><stop offset="0.71" stop-opacity="0.087"/><stop offset="0.86" stop-opacity="0.009"/><stop offset="1.00" stop-opacity="0.000"/></linearGradient><linearGradient id="g209" x2="0" y2="1"><stop offset="0.00" stop-opacity="0.259"/><stop offset="0.14" stop-opacity="0.259"/><stop offset="0.29" stop-opacity="0.259"/><stop offset="0.43" stop-opacity="0.256"/><stop offset="0.57" stop-opacity="0.213"/><stop offset="0.71" stop-opacity="0.085"/><stop offset="0.86" stop-opacity="0.009"/><stop offset="1.00" stop-opacity="0.000"/></linearGradient><linearGradient id="g210" x2="0" y2="1"><stop offset="0.00" stop-opacity="0.237"/><stop offset="0.14" stop-opacity="0.237"/><stop offset="0.29" stop-opacity="0.237"/><stop offset="0.43" stop-opacity="0.235"/><stop offset="0.57" stop-opacity="0.195"/><stop offset="0.71" stop-opacity="0.078"/><stop offset="0.86" stop-opacity="0.008"/><stop offset="1.00" stop-opacity="0.000"/></linearGradient><linearGradient id="g211" x2="0" y2="1"><stop offset="0.00" stop-opacity="0.197"/><stop offset="0.14" stop-opacity="0.197"/><stop offset="0.29" stop-opacity="0.197"/><stop offset="0.43" stop-opacity="0.195"/><stop offset="0.57" stop-opacity="0.162"/><stop offset="0.71" stop-opacity="0.065"/><stop offset="0.86" stop-opacity="0.007"/><stop offset="1.00" stop-opacity="0.000"/></linearGradient><linearGradient id="g212" x2="0" y2="1"><stop offset="0.00" stop-opacity="0.141"/><stop offset="0.14" stop-opacity="0.141"/><stop offset="0.29" stop-opacity="0.141"/><stop offset="0.43" stop-opacity="0.140"/><stop offset="0.57" stop-opacity="0.116"/><stop offset="0.71" stop-opacity="0.046"/><stop offset="0.86" stop-opacity="0.005"/><stop offset="1.00" stop-opacity="0.000"/></linearGradient><linearGradient id="g213" x2="0" y2="1"><stop offset="0.00" stop-opacity="0.083"/><stop offset="0.14" stop-opacity="0.083"/><stop offset="0.29" stop-opacity="0.083"/><stop offset="0.43" stop-opacity="0.082"/><stop offset="0.57" stop-opacity="0.069"/><stop offset="0.71" stop-opacity="0.027"/><stop offset="0.86" stop-opacity="0.003"/><stop offset="1.00" stop-opacity="0.000"/></linearGradient><linearGradient id="g214" x2="0" y2="1"><stop offset="0.00" stop-opacity="0.039"/><stop offset="0.14" stop-opacity="0.039"/><stop offset="0.29" stop-opacity="0.039"/><stop offset="0.43" stop-opacity="0.039"/><stop offset="0.57" stop-opacity="0.032"/><stop offset="0.71" stop-opacity="0.013"/><stop offset="0.86" stop-opacity="0.001"/><stop offset="1.00" stop-opacity="0.000"/></linearGradient><linearGradient id="g215" x2="0" y2="1"><stop offset="0.00" stop-opacity="0.014"/><stop offset="0.14" stop-opacity="0.014"/><stop offset="0.29" stop-opacity="0.014"/><stop offset="0.43" stop-opacity="0.014"/><stop offset="0.57" stop-opacity="0.012"/><stop offset="0.71" stop-opacity="0.005"/><stop offset="0.86" stop-opacity="0.000"/><stop offset="1.00" stop-opacity="0.000"/></linearGradient>
</defs>
<clipPath id="sc"><rect x="0" y="0" width="1576" height="435.8"/></clipPath><g clip-path="url(#sc)"><g filter="url(#b1)"><rect x="15.9" y="13.5" width="6" height="440" fill="#000" fill-opacity="0.26"/><rect x="1553" y="13.5" width="5.8" height="440" fill="#000" fill-opacity="0.26"/></g></g>
<rect x="11" y="435.8" width="1" height="22.3" fill="url(#g0)"/><rect x="12" y="435.8" width="1" height="22.3" fill="url(#g1)"/><rect x="13" y="435.8" width="1" height="22.3" fill="url(#g2)"/><rect x="14" y="435.8" width="1" height="22.3" fill="url(#g3)"/><rect x="15" y="435.8" width="1" height="22.3" fill="url(#g4)"/><rect x="16" y="435.8" width="1" height="22.3" fill="url(#g5)"/><rect x="17" y="435.8" width="1" height="22.3" fill="url(#g6)"/><rect x="18" y="435.8" width="1" height="22.3" fill="url(#g7)"/><rect x="19" y="435.8" width="1" height="22.3" fill="url(#g8)"/><rect x="20" y="435.8" width="1" height="22.2" fill="url(#g9)"/><rect x="21" y="435.8" width="1" height="22.2" fill="url(#g10)"/><rect x="22" y="435.8" width="4" height="22.1" fill="url(#g11)"/><rect x="26" y="435.8" width="8" height="21.9" fill="url(#g12)"/><rect x="34" y="435.8" width="8" height="21.7" fill="url(#g13)"/><rect x="42" y="435.8" width="8" height="21.4" fill="url(#g14)"/><rect x="50" y="435.8" width="8" height="21.1" fill="url(#g15)"/><rect x="58" y="435.8" width="8" height="20.9" fill="url(#g16)"/><rect x="66" y="435.8" width="8" height="20.6" fill="url(#g17)"/><rect x="74" y="435.8" width="8" height="20.4" fill="url(#g18)"/><rect x="82" y="435.8" width="8" height="20.1" fill="url(#g19)"/><rect x="90" y="435.8" width="8" height="19.9" fill="url(#g20)"/><rect x="98" y="435.8" width="8" height="19.6" fill="url(#g21)"/><rect x="106" y="435.8" width="8" height="19.3" fill="url(#g22)"/><rect x="114" y="435.8" width="8" height="19.1" fill="url(#g23)"/><rect x="122" y="435.8" width="8" height="18.8" fill="url(#g24)"/><rect x="130" y="435.8" width="8" height="18.6" fill="url(#g25)"/><rect x="138" y="435.8" width="8" height="18.3" fill="url(#g26)"/><rect x="146" y="435.8" width="8" height="18.1" fill="url(#g27)"/><rect x="154" y="435.8" width="8" height="17.8" fill="url(#g28)"/><rect x="162" y="435.8" width="8" height="17.5" fill="url(#g29)"/><rect x="170" y="435.8" width="8" height="17.3" fill="url(#g30)"/><rect x="178" y="435.8" width="8" height="17.1" fill="url(#g31)"/><rect x="186" y="435.8" width="8" height="16.8" fill="url(#g32)"/><rect x="194" y="435.8" width="8" height="16.6" fill="url(#g33)"/><rect x="202" y="435.8" width="8" height="16.3" fill="url(#g34)"/><rect x="210" y="435.8" width="8" height="16.1" fill="url(#g35)"/><rect x="218" y="435.8" width="8" height="15.9" fill="url(#g36)"/><rect x="226" y="435.8" width="8" height="15.6" fill="url(#g37)"/><rect x="234" y="435.8" width="8" height="15.4" fill="url(#g38)"/><rect x="242" y="435.8" width="8" height="15.2" fill="url(#g39)"/><rect x="250" y="435.8" width="8" height="14.9" fill="url(#g40)"/><rect x="258" y="435.8" width="8" height="14.7" fill="url(#g41)"/><rect x="266" y="435.8" width="8" height="14.6" fill="url(#g42)"/><rect x="274" y="435.8" width="8" height="14.4" fill="url(#g43)"/><rect x="282" y="435.8" width="8" height="14.3" fill="url(#g44)"/><rect x="290" y="435.8" width="8" height="14.1" fill="url(#g45)"/><rect x="298" y="435.8" width="8" height="13.9" fill="url(#g46)"/><rect x="306" y="435.8" width="8" height="13.8" fill="url(#g47)"/><rect x="314" y="435.8" width="8" height="13.6" fill="url(#g48)"/><rect x="322" y="435.8" width="8" height="13.4" fill="url(#g49)"/><rect x="330" y="435.8" width="8" height="13.3" fill="url(#g50)"/><rect x="338" y="435.8" width="8" height="13.1" fill="url(#g51)"/><rect x="346" y="435.8" width="8" height="13.0" fill="url(#g52)"/><rect x="354" y="435.8" width="8" height="12.8" fill="url(#g53)"/><rect x="362" y="435.8" width="8" height="12.6" fill="url(#g54)"/><rect x="370" y="435.8" width="8" height="12.5" fill="url(#g55)"/><rect x="378" y="435.8" width="8" height="12.3" fill="url(#g56)"/><rect x="386" y="435.8" width="8" height="12.2" fill="url(#g57)"/><rect x="394" y="435.8" width="8" height="12.0" fill="url(#g58)"/><rect x="402" y="435.8" width="8" height="11.8" fill="url(#g59)"/><rect x="410" y="435.8" width="8" height="11.6" fill="url(#g60)"/><rect x="418" y="435.8" width="8" height="11.4" fill="url(#g61)"/><rect x="426" y="435.8" width="8" height="11.2" fill="url(#g62)"/><rect x="434" y="435.8" width="8" height="11.0" fill="url(#g63)"/><rect x="442" y="435.8" width="8" height="10.8" fill="url(#g64)"/><rect x="450" y="435.8" width="8" height="10.6" fill="url(#g65)"/><rect x="458" y="435.8" width="8" height="10.4" fill="url(#g66)"/><rect x="466" y="435.8" width="8" height="10.2" fill="url(#g67)"/><rect x="474" y="435.8" width="8" height="10.0" fill="url(#g68)"/><rect x="482" y="435.8" width="8" height="9.8" fill="url(#g69)"/><rect x="490" y="435.8" width="8" height="9.6" fill="url(#g70)"/><rect x="498" y="435.8" width="8" height="9.4" fill="url(#g71)"/><rect x="506" y="435.8" width="8" height="9.1" fill="url(#g72)"/><rect x="514" y="435.8" width="8" height="8.9" fill="url(#g73)"/><rect x="522" y="435.8" width="8" height="8.7" fill="url(#g74)"/><rect x="530" y="435.8" width="8" height="8.5" fill="url(#g75)"/><rect x="538" y="435.8" width="8" height="8.2" fill="url(#g76)"/><rect x="546" y="435.8" width="8" height="8.0" fill="url(#g77)"/><rect x="554" y="435.8" width="8" height="7.8" fill="url(#g78)"/><rect x="562" y="435.8" width="8" height="7.6" fill="url(#g79)"/><rect x="570" y="435.8" width="8" height="7.4" fill="url(#g80)"/><rect x="578" y="435.8" width="8" height="7.2" fill="url(#g81)"/><rect x="586" y="435.8" width="8" height="7.1" fill="url(#g82)"/><rect x="594" y="435.8" width="8" height="6.9" fill="url(#g83)"/><rect x="602" y="435.8" width="8" height="6.8" fill="url(#g84)"/><rect x="610" y="435.8" width="8" height="6.6" fill="url(#g85)"/><rect x="618" y="435.8" width="8" height="6.4" fill="url(#g86)"/><rect x="626" y="435.8" width="8" height="6.3" fill="url(#g87)"/><rect x="634" y="435.8" width="8" height="6.1" fill="url(#g88)"/><rect x="642" y="435.8" width="8" height="6.0" fill="url(#g89)"/><rect x="650" y="435.8" width="8" height="5.9" fill="url(#g90)"/><rect x="658" y="435.8" width="8" height="5.8" fill="url(#g91)"/><rect x="666" y="435.8" width="8" height="5.8" fill="url(#g92)"/><rect x="674" y="435.8" width="8" height="5.8" fill="url(#g93)"/><rect x="682" y="435.8" width="8" height="5.7" fill="url(#g94)"/><rect x="690" y="435.8" width="8" height="5.7" fill="url(#g95)"/><rect x="698" y="435.8" width="8" height="5.6" fill="url(#g96)"/><rect x="706" y="435.8" width="8" height="5.6" fill="url(#g97)"/><rect x="714" y="435.8" width="8" height="5.5" fill="url(#g98)"/><rect x="722" y="435.8" width="8" height="5.5" fill="url(#g99)"/><rect x="730" y="435.8" width="8" height="5.4" fill="url(#g100)"/><rect x="738" y="435.8" width="8" height="5.4" fill="url(#g101)"/><rect x="746" y="435.8" width="8" height="5.4" fill="url(#g102)"/><rect x="754" y="435.8" width="8" height="5.3" fill="url(#g103)"/><rect x="762" y="435.8" width="8" height="5.3" fill="url(#g104)"/><rect x="770" y="435.8" width="8" height="5.2" fill="url(#g105)"/><rect x="778" y="435.8" width="8" height="5.2" fill="url(#g106)"/><rect x="786" y="435.8" width="8" height="5.2" fill="url(#g107)"/><rect x="794" y="435.8" width="8" height="5.2" fill="url(#g108)"/><rect x="802" y="435.8" width="8" height="5.3" fill="url(#g109)"/><rect x="810" y="435.8" width="8" height="5.4" fill="url(#g110)"/><rect x="818" y="435.8" width="8" height="5.4" fill="url(#g111)"/><rect x="826" y="435.8" width="8" height="5.5" fill="url(#g112)"/><rect x="834" y="435.8" width="8" height="5.5" fill="url(#g113)"/><rect x="842" y="435.8" width="8" height="5.6" fill="url(#g114)"/><rect x="850" y="435.8" width="8" height="5.7" fill="url(#g115)"/><rect x="858" y="435.8" width="8" height="5.7" fill="url(#g116)"/><rect x="866" y="435.8" width="8" height="5.8" fill="url(#g117)"/><rect x="874" y="435.8" width="8" height="5.9" fill="url(#g118)"/><rect x="882" y="435.8" width="8" height="5.9" fill="url(#g119)"/><rect x="890" y="435.8" width="8" height="6.0" fill="url(#g120)"/><rect x="898" y="435.8" width="8" height="6.1" fill="url(#g121)"/><rect x="906" y="435.8" width="8" height="6.1" fill="url(#g122)"/><rect x="914" y="435.8" width="8" height="6.2" fill="url(#g123)"/><rect x="922" y="435.8" width="8" height="6.2" fill="url(#g124)"/><rect x="930" y="435.8" width="8" height="6.4" fill="url(#g125)"/><rect x="938" y="435.8" width="8" height="6.6" fill="url(#g126)"/><rect x="946" y="435.8" width="8" height="6.8" fill="url(#g127)"/><rect x="954" y="435.8" width="8" height="6.9" fill="url(#g128)"/><rect x="962" y="435.8" width="8" height="7.1" fill="url(#g129)"/><rect x="970" y="435.8" width="8" height="7.3" fill="url(#g130)"/><rect x="978" y="435.8" width="8" height="7.5" fill="url(#g131)"/><rect x="986" y="435.8" width="8" height="7.6" fill="url(#g132)"/><rect x="994" y="435.8" width="8" height="7.8" fill="url(#g133)"/><rect x="1002" y="435.8" width="8" height="8.0" fill="url(#g134)"/><rect x="1010" y="435.8" width="8" height="8.2" fill="url(#g135)"/><rect x="1018" y="435.8" width="8" height="8.5" fill="url(#g136)"/><rect x="1026" y="435.8" width="8" height="8.7" fill="url(#g137)"/><rect x="1034" y="435.8" width="8" height="9.0" fill="url(#g138)"/><rect x="1042" y="435.8" width="8" height="9.2" fill="url(#g139)"/><rect x="1050" y="435.8" width="8" height="9.5" fill="url(#g140)"/><rect x="1058" y="435.8" width="8" height="9.7" fill="url(#g141)"/><rect x="1066" y="435.8" width="8" height="9.9" fill="url(#g142)"/><rect x="1074" y="435.8" width="8" height="10.2" fill="url(#g143)"/><rect x="1082" y="435.8" width="8" height="10.4" fill="url(#g144)"/><rect x="1090" y="435.8" width="8" height="10.6" fill="url(#g145)"/><rect x="1098" y="435.8" width="8" height="10.8" fill="url(#g146)"/><rect x="1106" y="435.8" width="8" height="11.1" fill="url(#g147)"/><rect x="1114" y="435.8" width="8" height="11.3" fill="url(#g148)"/><rect x="1122" y="435.8" width="8" height="11.5" fill="url(#g149)"/><rect x="1130" y="435.8" width="8" height="11.7" fill="url(#g150)"/><rect x="1138" y="435.8" width="8" height="12.0" fill="url(#g151)"/><rect x="1146" y="435.8" width="8" height="12.2" fill="url(#g152)"/><rect x="1154" y="435.8" width="8" height="12.4" fill="url(#g153)"/><rect x="1162" y="435.8" width="8" height="12.6" fill="url(#g154)"/><rect x="1170" y="435.8" width="8" height="12.8" fill="url(#g155)"/><rect x="1178" y="435.8" width="8" height="13.0" fill="url(#g156)"/><rect x="1186" y="435.8" width="8" height="13.2" fill="url(#g157)"/><rect x="1194" y="435.8" width="8" height="13.4" fill="url(#g158)"/><rect x="1202" y="435.8" width="8" height="13.6" fill="url(#g159)"/><rect x="1210" y="435.8" width="8" height="13.7" fill="url(#g160)"/><rect x="1218" y="435.8" width="8" height="13.9" fill="url(#g161)"/><rect x="1226" y="435.8" width="8" height="14.1" fill="url(#g162)"/><rect x="1234" y="435.8" width="8" height="14.3" fill="url(#g163)"/><rect x="1242" y="435.8" width="8" height="14.5" fill="url(#g164)"/><rect x="1250" y="435.8" width="8" height="14.6" fill="url(#g165)"/><rect x="1258" y="435.8" width="8" height="14.8" fill="url(#g166)"/><rect x="1266" y="435.8" width="8" height="15.0" fill="url(#g167)"/><rect x="1274" y="435.8" width="8" height="15.2" fill="url(#g168)"/><rect x="1282" y="435.8" width="8" height="15.4" fill="url(#g169)"/><rect x="1290" y="435.8" width="8" height="15.5" fill="url(#g170)"/><rect x="1298" y="435.8" width="8" height="15.7" fill="url(#g171)"/><rect x="1306" y="435.8" width="8" height="15.9" fill="url(#g172)"/><rect x="1314" y="435.8" width="8" height="16.1" fill="url(#g173)"/><rect x="1322" y="435.8" width="8" height="16.3" fill="url(#g174)"/><rect x="1330" y="435.8" width="8" height="16.6" fill="url(#g175)"/><rect x="1338" y="435.8" width="8" height="16.8" fill="url(#g176)"/><rect x="1346" y="435.8" width="8" height="17.1" fill="url(#g177)"/><rect x="1354" y="435.8" width="8" height="17.4" fill="url(#g178)"/><rect x="1362" y="435.8" width="8" height="17.6" fill="url(#g179)"/><rect x="1370" y="435.8" width="8" height="17.9" fill="url(#g180)"/><rect x="1378" y="435.8" width="8" height="18.1" fill="url(#g181)"/><rect x="1386" y="435.8" width="8" height="18.4" fill="url(#g182)"/><rect x="1394" y="435.8" width="8" height="18.6" fill="url(#g183)"/><rect x="1402" y="435.8" width="8" height="18.9" fill="url(#g184)"/><rect x="1410" y="435.8" width="8" height="19.2" fill="url(#g185)"/><rect x="1418" y="435.8" width="8" height="19.5" fill="url(#g186)"/><rect x="1426" y="435.8" width="8" height="19.7" fill="url(#g187)"/><rect x="1434" y="435.8" width="8" height="20.0" fill="url(#g188)"/><rect x="1442" y="435.8" width="8" height="20.3" fill="url(#g189)"/><rect x="1450" y="435.8" width="8" height="20.6" fill="url(#g190)"/><rect x="1458" y="435.8" width="8" height="20.8" fill="url(#g191)"/><rect x="1466" y="435.8" width="8" height="21.1" fill="url(#g192)"/><rect x="1474" y="435.8" width="8" height="21.4" fill="url(#g193)"/><rect x="1482" y="435.8" width="8" height="21.7" fill="url(#g194)"/><rect x="1490" y="435.8" width="8" height="21.9" fill="url(#g195)"/><rect x="1498" y="435.8" width="8" height="22.2" fill="url(#g196)"/><rect x="1506" y="435.8" width="8" height="22.5" fill="url(#g197)"/><rect x="1514" y="435.8" width="8" height="22.8" fill="url(#g198)"/><rect x="1522" y="435.8" width="8" height="23.0" fill="url(#g199)"/><rect x="1530" y="435.8" width="8" height="23.3" fill="url(#g200)"/><rect x="1538" y="435.8" width="8" height="23.6" fill="url(#g201)"/><rect x="1546" y="435.8" width="4" height="23.8" fill="url(#g202)"/><rect x="1550" y="435.8" width="1" height="23.9" fill="url(#g203)"/><rect x="1551" y="435.8" width="1" height="23.9" fill="url(#g204)"/><rect x="1552" y="435.8" width="1" height="23.9" fill="url(#g205)"/><rect x="1553" y="435.8" width="1" height="24.0" fill="url(#g206)"/><rect x="1554" y="435.8" width="1" height="24.0" fill="url(#g207)"/><rect x="1555" y="435.8" width="1" height="24.0" fill="url(#g208)"/><rect x="1556" y="435.8" width="1" height="24.1" fill="url(#g209)"/><rect x="1557" y="435.8" width="1" height="24.1" fill="url(#g210)"/><rect x="1558" y="435.8" width="1" height="24.1" fill="url(#g211)"/><rect x="1559" y="435.8" width="1" height="24.1" fill="url(#g212)"/><rect x="1560" y="435.8" width="1" height="24.1" fill="url(#g213)"/><rect x="1561" y="435.8" width="1" height="24.1" fill="url(#g214)"/><rect x="1562" y="435.8" width="1" height="24.1" fill="url(#g215)"/>
<rect x="18.4" y="10.2" width="1537.9" height="425.6" fill="#fff"/>
<rect x="18.4" y="9.4" width="1537.9" height="2.2" fill="#000" fill-opacity="0.025"/>
<polygon points="52.70,193.00 52.70,166.80 53.40,166.80 64.48,165.60 75.56,160.80 86.64,160.70 97.72,162.70 108.80,165.90 119.88,166.10 130.96,166.20 142.04,164.60 153.12,161.80 164.20,158.90 175.28,160.00 186.36,162.70 197.44,163.70 208.52,164.80 219.60,165.90 230.68,160.20 241.76,161.40 252.84,161.40 263.92,162.70 275.00,166.80 286.08,165.30 297.16,168.10 308.24,161.50 319.32,158.60 330.40,159.40 341.48,164.30 352.56,165.30 363.64,162.10 374.72,162.10 385.80,158.90 387.80,158.90 387.80,193.00" fill="#e4f0f9" filter="url(#fb)"/><polyline points="53.40,170.00 64.48,168.80 75.56,164.00 86.64,163.90 97.72,165.90 108.80,169.10 119.88,169.30 130.96,169.40 142.04,167.80 153.12,165.00 164.20,162.10 175.28,163.20 186.36,165.90 197.44,166.90 208.52,168.00 219.60,169.10 230.68,163.40 241.76,164.60 252.84,164.60 263.92,165.90 275.00,170.00 286.08,168.50 297.16,171.30 308.24,164.70 319.32,161.80 330.40,162.60 341.48,167.50 352.56,168.50 363.64,165.30 374.72,165.30 385.80,162.10" fill="none" stroke="#eff6fb" stroke-width="3" stroke-linejoin="round"/><polyline points="53.40,166.80 64.48,165.60 75.56,160.80 86.64,160.70 97.72,162.70 108.80,165.90 119.88,166.10 130.96,166.20 142.04,164.60 153.12,161.80 164.20,158.90 175.28,160.00 186.36,162.70 197.44,163.70 208.52,164.80 219.60,165.90 230.68,160.20 241.76,161.40 252.84,161.40 263.92,162.70 275.00,166.80 286.08,165.30 297.16,168.10 308.24,161.50 319.32,158.60 330.40,159.40 341.48,164.30 352.56,165.30 363.64,162.10 374.72,162.10 385.80,158.90" fill="none" stroke="#1a90cc" stroke-width="2.8" stroke-linejoin="round" stroke-linecap="square" filter="url(#lb)"/><polygon points="433.00,193.00 433.00,166.80 433.70,166.80 444.78,165.60 455.86,160.80 466.94,160.70 478.02,162.70 489.10,165.90 500.18,166.10 511.26,166.20 522.34,164.60 533.42,161.80 544.50,158.90 555.58,160.00 566.66,162.70 577.74,163.70 588.82,164.80 599.90,165.90 610.98,160.20 622.06,161.40 633.14,161.40 644.22,162.70 655.30,166.80 666.38,165.30 677.46,168.10 688.54,161.50 699.62,158.60 710.70,159.40 721.78,164.30 732.86,165.30 743.94,162.10 755.02,162.10 766.10,158.90 768.10,158.90 768.10,193.00" fill="#e4f0f9" filter="url(#fb)"/><polyline points="433.70,170.00 444.78,168.80 455.86,164.00 466.94,163.90 478.02,165.90 489.10,169.10 500.18,169.30 511.26,169.40 522.34,167.80 533.42,165.00 544.50,162.10 555.58,163.20 566.66,165.90 577.74,166.90 588.82,168.00 599.90,169.10 610.98,163.40 622.06,164.60 633.14,164.60 644.22,165.90 655.30,170.00 666.38,168.50 677.46,171.30 688.54,164.70 699.62,161.80 710.70,162.60 721.78,167.50 732.86,168.50 743.94,165.30 755.02,165.30 766.10,162.10" fill="none" stroke="#eff6fb" stroke-width="3" stroke-linejoin="round"/><polyline points="433.70,166.80 444.78,165.60 455.86,160.80 466.94,160.70 478.02,162.70 489.10,165.90 500.18,166.10 511.26,166.20 522.34,164.60 533.42,161.80 544.50,158.90 555.58,160.00 566.66,162.70 577.74,163.70 588.82,164.80 599.90,165.90 610.98,160.20 622.06,161.40 633.14,161.40 644.22,162.70 655.30,166.80 666.38,165.30 677.46,168.10 688.54,161.50 699.62,158.60 710.70,159.40 721.78,164.30 732.86,165.30 743.94,162.10 755.02,162.10 766.10,158.90" fill="none" stroke="#1a90cc" stroke-width="2.8" stroke-linejoin="round" stroke-linecap="square" filter="url(#lb)"/><polygon points="813.30,193.00 813.30,166.80 814.00,166.80 825.08,165.60 836.16,160.80 847.24,160.70 858.32,162.70 869.40,165.90 880.48,166.10 891.56,166.20 902.64,164.60 913.72,161.80 924.80,158.90 935.88,160.00 946.96,162.70 958.04,163.70 969.12,164.80 980.20,165.90 991.28,160.20 1002.36,161.40 1013.44,161.40 1024.52,162.70 1035.60,166.80 1046.68,165.30 1057.76,168.10 1068.84,161.50 1079.92,158.60 1091.00,159.40 1102.08,164.30 1113.16,165.30 1124.24,162.10 1135.32,162.10 1146.40,158.90 1148.40,158.90 1148.40,193.00" fill="#e4f0f9" filter="url(#fb)"/><polyline points="814.00,170.00 825.08,168.80 836.16,164.00 847.24,163.90 858.32,165.90 869.40,169.10 880.48,169.30 891.56,169.40 902.64,167.80 913.72,165.00 924.80,162.10 935.88,163.20 946.96,165.90 958.04,166.90 969.12,168.00 980.20,169.10 991.28,163.40 1002.36,164.60 1013.44,164.60 1024.52,165.90 1035.60,170.00 1046.68,168.50 1057.76,171.30 1068.84,164.70 1079.92,161.80 1091.00,162.60 1102.08,167.50 1113.16,168.50 1124.24,165.30 1135.32,165.30 1146.40,162.10" fill="none" stroke="#eff6fb" stroke-width="3" stroke-linejoin="round"/><polyline points="814.00,166.80 825.08,165.60 836.16,160.80 847.24,160.70 858.32,162.70 869.40,165.90 880.48,166.10 891.56,166.20 902.64,164.60 913.72,161.80 924.80,158.90 935.88,160.00 946.96,162.70 958.04,163.70 969.12,164.80 980.20,165.90 991.28,160.20 1002.36,161.40 1013.44,161.40 1024.52,162.70 1035.60,166.80 1046.68,165.30 1057.76,168.10 1068.84,161.50 1079.92,158.60 1091.00,159.40 1102.08,164.30 1113.16,165.30 1124.24,162.10 1135.32,162.10 1146.40,158.90" fill="none" stroke="#1a90cc" stroke-width="2.8" stroke-linejoin="round" stroke-linecap="square" filter="url(#lb)"/><polygon points="1193.60,193.00 1193.60,159.00 1194.30,159.00 1205.38,159.00 1216.46,159.00 1227.54,159.00 1238.62,159.00 1249.70,159.00 1260.78,159.00 1271.86,159.00 1282.94,159.00 1294.02,159.00 1305.10,159.00 1316.18,159.00 1327.26,159.00 1338.34,159.00 1349.42,159.00 1360.50,159.00 1371.58,159.00 1382.66,159.00 1393.74,159.00 1404.82,159.00 1415.90,159.00 1426.98,159.00 1438.06,159.00 1449.14,159.00 1460.22,159.00 1471.30,159.00 1482.38,159.00 1493.46,159.00 1504.54,159.00 1515.62,159.00 1526.70,159.00 1528.70,159.00 1528.70,193.00" fill="#e4f0f9" filter="url(#fb)"/><polyline points="1194.30,162.20 1205.38,162.20 1216.46,162.20 1227.54,162.20 1238.62,162.20 1249.70,162.20 1260.78,162.20 1271.86,162.20 1282.94,162.20 1294.02,162.20 1305.10,162.20 1316.18,162.20 1327.26,162.20 1338.34,162.20 1349.42,162.20 1360.50,162.20 1371.58,162.20 1382.66,162.20 1393.74,162.20 1404.82,162.20 1415.90,162.20 1426.98,162.20 1438.06,162.20 1449.14,162.20 1460.22,162.20 1471.30,162.20 1482.38,162.20 1493.46,162.20 1504.54,162.20 1515.62,162.20 1526.70,162.20" fill="none" stroke="#eff6fb" stroke-width="3" stroke-linejoin="round"/><polyline points="1194.30,159.00 1205.38,159.00 1216.46,159.00 1227.54,159.00 1238.62,159.00 1249.70,159.00 1260.78,159.00 1271.86,159.00 1282.94,159.00 1294.02,159.00 1305.10,159.00 1316.18,159.00 1327.26,159.00 1338.34,159.00 1349.42,159.00 1360.50,159.00 1371.58,159.00 1382.66,159.00 1393.74,159.00 1404.82,159.00 1415.90,159.00 1426.98,159.00 1438.06,159.00 1449.14,159.00 1460.22,159.00 1471.30,159.00 1482.38,159.00 1493.46,159.00 1504.54,159.00 1515.62,159.00 1526.70,159.00" fill="none" stroke="#3da0d3" stroke-width="2.8" stroke-linejoin="round" stroke-linecap="square" filter="url(#lb)"/><polygon points="52.70,396.00 52.70,365.10 53.40,365.10 64.48,365.10 75.56,363.50 86.64,362.90 97.72,362.60 108.80,361.60 119.88,363.50 130.96,364.60 142.04,362.90 153.12,362.90 164.20,361.80 175.28,362.90 186.36,362.60 197.44,361.80 208.52,363.80 219.60,364.00 230.68,362.00 241.76,361.00 252.84,362.70 263.92,361.30 275.00,362.90 286.08,361.60 297.16,361.60 308.24,362.90 319.32,365.10 330.40,362.90 341.48,362.40 352.56,361.80 363.64,365.10 374.72,364.20 385.80,362.70 387.80,362.70 387.80,396.00" fill="#e4f0f9" filter="url(#fb)"/><polyline points="53.40,368.30 64.48,368.30 75.56,366.70 86.64,366.10 97.72,365.80 108.80,364.80 119.88,366.70 130.96,367.80 142.04,366.10 153.12,366.10 164.20,365.00 175.28,366.10 186.36,365.80 197.44,365.00 208.52,367.00 219.60,367.20 230.68,365.20 241.76,364.20 252.84,365.90 263.92,364.50 275.00,366.10 286.08,364.80 297.16,364.80 308.24,366.10 319.32,368.30 330.40,366.10 341.48,365.60 352.56,365.00 363.64,368.30 374.72,367.40 385.80,365.90" fill="none" stroke="#eff6fb" stroke-width="3" stroke-linejoin="round"/><polyline points="53.40,365.10 64.48,365.10 75.56,363.50 86.64,362.90 97.72,362.60 108.80,361.60 119.88,363.50 130.96,364.60 142.04,362.90 153.12,362.90 164.20,361.80 175.28,362.90 186.36,362.60 197.44,361.80 208.52,363.80 219.60,364.00 230.68,362.00 241.76,361.00 252.84,362.70 263.92,361.30 275.00,362.90 286.08,361.60 297.16,361.60 308.24,362.90 319.32,365.10 330.40,362.90 341.48,362.40 352.56,361.80 363.64,365.10 374.72,364.20 385.80,362.70" fill="none" stroke="#1a90cc" stroke-width="2.8" stroke-linejoin="round" stroke-linecap="square" filter="url(#lb)"/><polygon points="433.00,396.00 433.00,362.00 433.70,362.00 444.78,362.00 455.86,362.00 466.94,362.00 478.02,362.00 489.10,362.00 500.18,362.00 511.26,362.00 522.34,362.00 533.42,362.00 544.50,362.00 555.58,362.00 566.66,362.00 577.74,362.00 588.82,362.00 599.90,362.00 610.98,362.00 622.06,362.00 633.14,362.00 644.22,362.00 655.30,362.00 666.38,362.00 677.46,362.00 688.54,362.00 699.62,362.00 710.70,362.00 721.78,362.00 732.86,362.00 743.94,362.00 755.02,362.00 766.10,362.00 768.10,362.00 768.10,396.00" fill="#e4f0f9" filter="url(#fb)"/><polyline points="433.70,365.20 444.78,365.20 455.86,365.20 466.94,365.20 478.02,365.20 489.10,365.20 500.18,365.20 511.26,365.20 522.34,365.20 533.42,365.20 544.50,365.20 555.58,365.20 566.66,365.20 577.74,365.20 588.82,365.20 599.90,365.20 610.98,365.20 622.06,365.20 633.14,365.20 644.22,365.20 655.30,365.20 666.38,365.20 677.46,365.20 688.54,365.20 699.62,365.20 710.70,365.20 721.78,365.20 732.86,365.20 743.94,365.20 755.02,365.20 766.10,365.20" fill="none" stroke="#eff6fb" stroke-width="3" stroke-linejoin="round"/><polyline points="433.70,362.00 444.78,362.00 455.86,362.00 466.94,362.00 478.02,362.00 489.10,362.00 500.18,362.00 511.26,362.00 522.34,362.00 533.42,362.00 544.50,362.00 555.58,362.00 566.66,362.00 577.74,362.00 588.82,362.00 599.90,362.00 610.98,362.00 622.06,362.00 633.14,362.00 644.22,362.00 655.30,362.00 666.38,362.00 677.46,362.00 688.54,362.00 699.62,362.00 710.70,362.00 721.78,362.00 732.86,362.00 743.94,362.00 755.02,362.00 766.10,362.00" fill="none" stroke="#5cb0db" stroke-width="2.8" stroke-linejoin="round" stroke-linecap="square" filter="url(#lb)"/><polygon points="813.30,396.00 813.30,362.44 814.00,362.44 825.08,362.20 836.16,363.10 847.24,362.92 858.32,362.20 869.40,363.28 880.48,362.20 891.56,361.96 902.64,362.74 913.72,363.10 924.80,362.74 935.88,361.96 946.96,362.74 958.04,362.32 969.12,361.96 980.20,362.74 991.28,362.98 1002.36,363.28 1013.44,361.96 1024.52,362.38 1035.60,362.74 1046.68,362.74 1057.76,362.74 1068.84,361.96 1079.92,362.02 1091.00,362.08 1102.08,362.86 1113.16,362.62 1124.24,361.78 1135.32,361.96 1146.40,362.74 1148.40,362.74 1148.40,396.00" fill="#e4f0f9" filter="url(#fb)"/><polyline points="814.00,365.64 825.08,365.40 836.16,366.30 847.24,366.12 858.32,365.40 869.40,366.48 880.48,365.40 891.56,365.16 902.64,365.94 913.72,366.30 924.80,365.94 935.88,365.16 946.96,365.94 958.04,365.52 969.12,365.16 980.20,365.94 991.28,366.18 1002.36,366.48 1013.44,365.16 1024.52,365.58 1035.60,365.94 1046.68,365.94 1057.76,365.94 1068.84,365.16 1079.92,365.22 1091.00,365.28 1102.08,366.06 1113.16,365.82 1124.24,364.98 1135.32,365.16 1146.40,365.94" fill="none" stroke="#eff6fb" stroke-width="3" stroke-linejoin="round"/><polyline points="814.00,362.44 825.08,362.20 836.16,363.10 847.24,362.92 858.32,362.20 869.40,363.28 880.48,362.20 891.56,361.96 902.64,362.74 913.72,363.10 924.80,362.74 935.88,361.96 946.96,362.74 958.04,362.32 969.12,361.96 980.20,362.74 991.28,362.98 1002.36,363.28 1013.44,361.96 1024.52,362.38 1035.60,362.74 1046.68,362.74 1057.76,362.74 1068.84,361.96 1079.92,362.02 1091.00,362.08 1102.08,362.86 1113.16,362.62 1124.24,361.78 1135.32,361.96 1146.40,362.74" fill="none" stroke="#1a90cc" stroke-width="2.8" stroke-linejoin="round" stroke-linecap="square" filter="url(#lb)"/><rect x="406.20" y="59.2" width="1.6" height="153.3" fill="#c2c2c2"/><rect x="406.20" y="262.2" width="1.6" height="153.3" fill="#c2c2c2"/><rect x="786.67" y="59.2" width="1.6" height="153.3" fill="#c2c2c2"/><rect x="786.67" y="262.2" width="1.6" height="153.3" fill="#c2c2c2"/><rect x="1167.15" y="59.2" width="1.6" height="153.3" fill="#c2c2c2"/><rect x="1167.15" y="262.2" width="1.6" height="153.3" fill="#c2c2c2"/>
</svg>
<div class="lbl" style="left:48.1px;top:59.5px">Sessions</div><div class="num" style="left:48.6px;top:100.5px"><span class="one">1<svg viewBox="0 0 556 1117" preserveAspectRatio="none"><path d="M277,885 L368,885 L368,200 L312,200 Q186,338 104,363 L104,446 L277,371 Z"/></svg></span>,9<span class="one">1<svg viewBox="0 0 556 1117" preserveAspectRatio="none"><path d="M277,885 L368,885 L368,200 L312,200 Q186,338 104,363 L104,446 L277,371 Z"/></svg></span>4,657</div><div class="lbl" style="left:428.1px;top:59.5px">Users</div><div class="num" style="left:428.1px;top:100.5px"><span class="one">1<svg viewBox="0 0 556 1117" preserveAspectRatio="none"><path d="M277,885 L368,885 L368,200 L312,200 Q186,338 104,363 L104,446 L277,371 Z"/></svg></span>,432,350</div><div class="lbl" style="left:808.3px;top:59.5px">Pageviews</div><div class="num" style="left:808.3px;top:100.5px">2,763,356</div><div class="lbl" style="left:1189.1px;top:59.5px">Pages / Session</div><div class="num" style="left:1189.1px;top:100.5px"><span class="one">1<svg viewBox="0 0 556 1117" preserveAspectRatio="none"><path d="M277,885 L368,885 L368,200 L312,200 Q186,338 104,363 L104,446 L277,371 Z"/></svg></span>.44</div><div class="lbl" style="left:48.1px;top:263.2px">Avg. Session Duration</div><div class="num" style="left:48.6px;top:303.5px">00:0<span class="one">1<svg viewBox="0 0 556 1117" preserveAspectRatio="none"><path d="M277,885 L368,885 L368,200 L312,200 Q186,338 104,363 L104,446 L277,371 Z"/></svg></span>:<span class="one">1<svg viewBox="0 0 556 1117" preserveAspectRatio="none"><path d="M277,885 L368,885 L368,200 L312,200 Q186,338 104,363 L104,446 L277,371 Z"/></svg></span>2</div><div class="lbl" style="left:428.1px;top:263.2px">Bounce Rate</div><div class="num" style="left:428.1px;top:303.5px">82.52%</div><div class="lbl" style="left:808.3px;top:263.2px">% New Sessions</div><div class="num" style="left:808.3px;top:303.5px">59.62%</div>
</body></html>
